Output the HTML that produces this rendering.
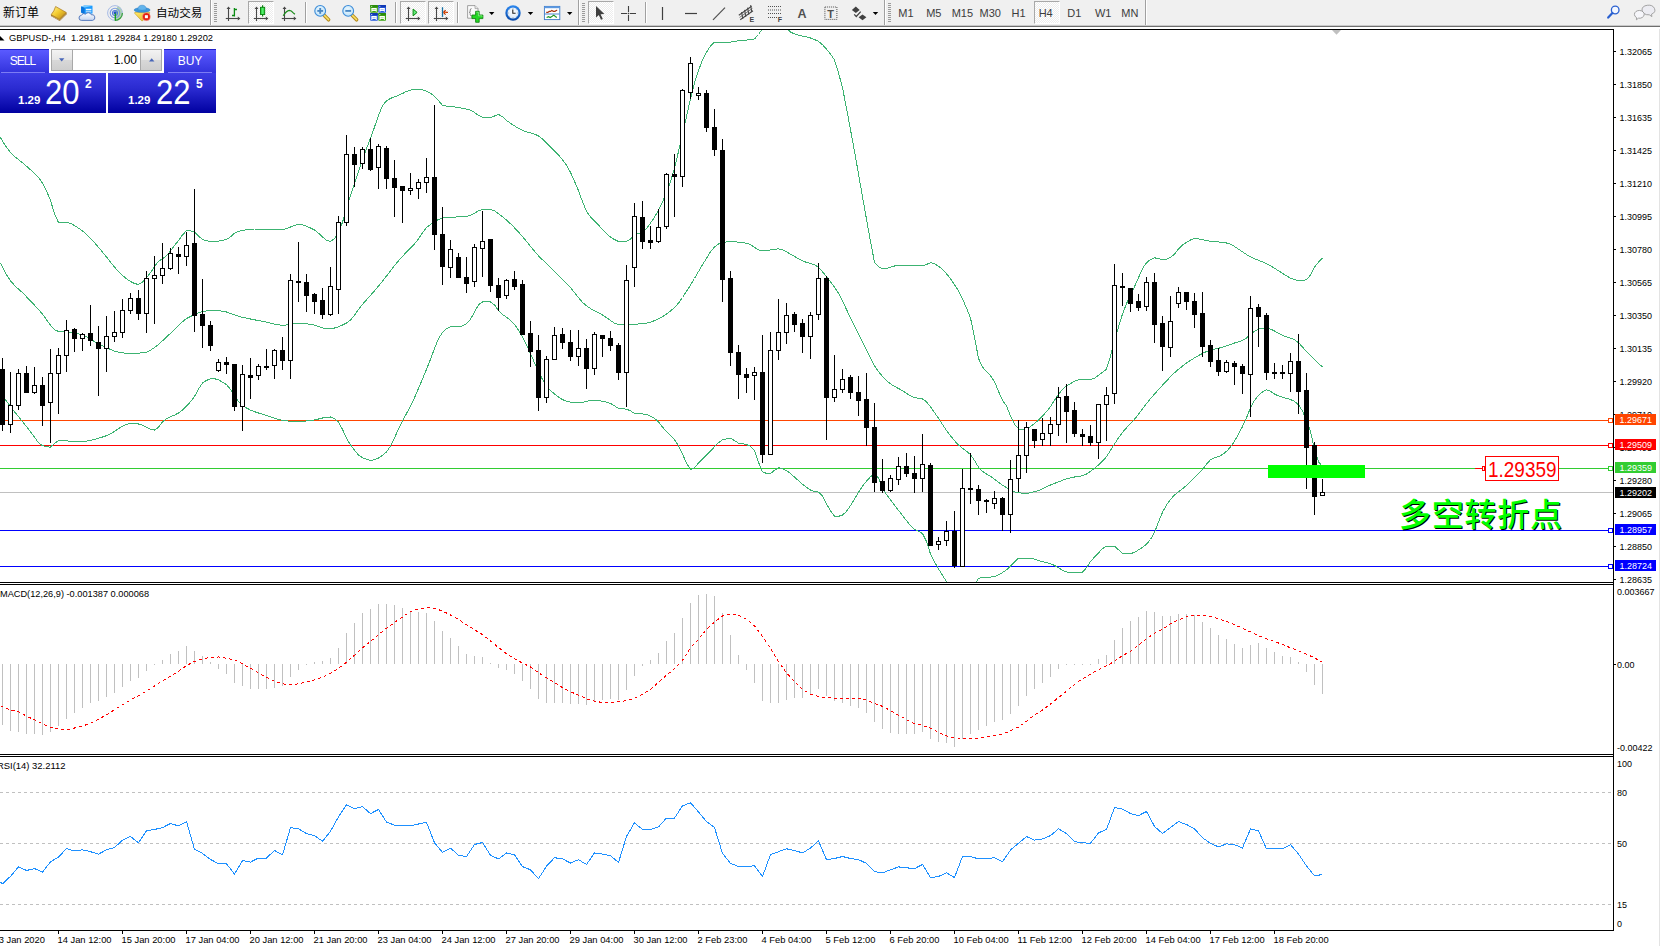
<!DOCTYPE html>
<html lang="zh"><head><meta charset="utf-8"><title>GBPUSD-,H4</title>
<style>
html,body{margin:0;padding:0;background:#fff;}
body{width:1660px;height:946px;overflow:hidden;position:relative;font-family:"Liberation Sans","Noto Sans CJK SC",sans-serif;}
#tb{position:absolute;left:0;top:0;width:1660px;height:29px;background:#f0f0f0;}
#tb .edge1{position:absolute;left:0;top:25px;width:1660px;height:1px;background:#c9c9c9;}
#tb .edge2{position:absolute;left:0;top:26px;width:1660px;height:1px;background:#6e6e6e;}
#tb .edge3{position:absolute;left:0;top:27px;width:1660px;height:2px;background:#fff;}
#tb .lbl{position:absolute;top:5px;font-size:12px;line-height:16px;color:#000;white-space:nowrap;}
#tb .tf{position:absolute;top:7px;font-size:11px;line-height:13px;color:#3c3c3c;white-space:nowrap;text-align:center;}
#tb .sep{position:absolute;top:2px;width:1px;height:21px;background:#a0a0a0;}
#tb .sepw{position:absolute;top:2px;width:1px;height:21px;background:#fff;}
#tb .grip{position:absolute;top:3px;width:3px;height:19px;background:repeating-linear-gradient(to bottom,#9a9a9a 0,#9a9a9a 1px,#f0f0f0 1px,#f0f0f0 2px);}
#tb .act{position:absolute;top:1px;height:23px;box-sizing:border-box;border:1px solid;border-color:#a8a8a8 #fff #fff #a8a8a8;background:#f8f8f8;background-image:repeating-conic-gradient(#fff 0 25%,#ededed 0 50%);background-size:2px 2px;}
#icons{position:absolute;left:0;top:0;}
#chart{position:absolute;left:0;top:0;}
#chart text{font-family:"Liberation Sans","Noto Sans CJK SC",sans-serif;}
#panel{position:absolute;left:0;top:49px;width:216px;height:64px;color:#fff;}
#panel .b{position:absolute;box-sizing:border-box;}
.sell,.buy{top:0;height:24px;background:linear-gradient(#5a5aff,#3232dc);font-size:12px;line-height:23px;text-align:center;border-top:1px solid #2020c8;}
.pr{top:24px;height:40px;background:linear-gradient(#3c3ce4 0,#2a2ad0 40%,#0000a0 100%);}
.pr span{position:absolute;white-space:nowrap;}
.sm{font-size:11.5px;font-weight:bold;line-height:11px;}
.big{font-size:34.5px;line-height:34px;transform-origin:0 0;transform:scaleX(.9);}
.vol{left:51px;top:0;width:111px;height:22px;border:1px solid #a8a8a8;background:#fff;}
.vbtn{position:absolute;top:0;width:21px;height:20px;background:linear-gradient(#f3f3f3 0,#e6e6e6 48%,#d8d8d8 52%,#cecece 100%);box-sizing:border-box;border:0 solid #a8a8a8;}

.vtxt{position:absolute;right:24px;top:3px;font-size:12px;line-height:14px;color:#000;}
</style></head><body>

<svg id="chart" width="1660" height="946" viewBox="0 0 1660 946">
<defs><clipPath id="cm"><rect x="0" y="30" width="1613" height="552"/></clipPath></defs>
<g shape-rendering="crispEdges">
<rect x="0" y="420" width="1613" height="1" fill="#ff4500"/>
<rect x="0" y="445" width="1613" height="1" fill="#ff0000"/>
<rect x="0" y="468" width="1613" height="1" fill="#32cd32"/>
<rect x="0" y="492" width="1613" height="1" fill="#c0c0c0"/>
<rect x="0" y="530" width="1613" height="1" fill="#0000ff"/>
<rect x="0" y="566" width="1613" height="1" fill="#0000ff"/>
<g clip-path="url(#cm)">
<polyline fill="none" stroke="#3cb371" stroke-width="1"  points="0.5,137.5 2.5,141.0 6.5,147.3 10.5,152.5 14.5,156.4 18.5,159.6 22.5,162.8 26.5,166.3 30.5,169.7 34.5,173.4 38.5,177.6 42.5,183.0 46.5,191.0 50.5,200.5 54.5,213.9 58.5,222.5 62.5,222.5 66.5,222.5 70.5,223.4 74.5,225.5 78.5,228.2 82.5,230.9 86.5,234.4 90.5,238.4 94.5,242.6 98.5,247.3 102.5,252.1 106.5,256.9 110.5,262.1 114.5,267.1 118.5,271.5 122.5,275.4 126.5,278.9 130.5,281.5 134.5,283.5 138.5,284.5 142.5,282.2 146.5,277.6 150.5,272.7 154.5,266.6 158.5,261.4 162.5,258.7 166.5,255.7 170.5,251.0 174.5,245.6 178.5,240.5 182.5,234.9 186.5,230.7 190.5,230.8 194.5,232.0 198.5,236.0 202.5,239.5 206.5,240.7 210.5,241.4 214.5,241.4 218.5,241.1 222.5,240.4 226.5,239.5 230.5,236.9 234.5,233.2 238.5,231.3 242.5,230.4 246.5,229.7 250.5,229.2 254.5,229.0 258.5,229.0 262.5,229.1 266.5,229.2 270.5,229.3 274.5,229.4 278.5,229.5 282.5,229.5 286.5,228.6 290.5,227.0 294.5,225.4 298.5,224.5 302.5,224.9 306.5,226.2 310.5,228.0 314.5,230.0 318.5,233.2 322.5,237.0 326.5,240.2 330.5,241.5 334.5,238.7 338.5,232.8 342.5,222.2 346.5,208.4 350.5,195.5 354.5,183.3 358.5,171.3 362.5,159.8 366.5,148.7 370.5,138.1 374.5,127.1 378.5,115.4 382.5,105.7 386.5,100.8 390.5,98.4 394.5,96.8 398.5,95.3 402.5,93.5 406.5,91.4 410.5,90.1 414.5,89.6 418.5,89.3 422.5,89.7 426.5,91.2 430.5,93.2 434.5,96.3 438.5,100.6 442.5,105.3 446.5,106.1 450.5,106.5 454.5,106.9 458.5,107.5 462.5,108.2 466.5,109.1 470.5,110.2 474.5,112.5 478.5,115.4 482.5,117.4 486.5,117.5 490.5,117.5 494.5,116.0 498.5,114.5 502.5,116.6 506.5,120.4 510.5,123.3 514.5,125.9 518.5,128.3 522.5,130.3 526.5,131.8 530.5,132.9 534.5,134.1 538.5,135.9 542.5,138.9 546.5,142.9 550.5,147.0 554.5,150.9 558.5,155.1 562.5,159.7 566.5,165.1 570.5,172.3 574.5,181.3 578.5,190.7 582.5,201.7 586.5,211.4 590.5,217.0 594.5,221.1 598.5,225.1 602.5,229.5 606.5,233.7 610.5,237.0 614.5,239.6 618.5,241.4 622.5,241.5 626.5,241.5 630.5,239.1 634.5,234.8 638.5,233.7 642.5,232.6 646.5,228.7 650.5,223.1 654.5,217.2 658.5,210.1 662.5,202.0 666.5,192.6 670.5,181.4 674.5,168.1 678.5,151.6 682.5,134.3 686.5,116.5 690.5,98.6 694.5,83.0 698.5,70.3 702.5,60.2 706.5,52.4 710.5,45.9 714.5,42.1 718.5,42.2 722.5,42.7 726.5,42.7 730.5,42.1 734.5,41.4 738.5,40.7 742.5,40.3 746.5,40.1 750.5,39.7 754.5,38.9 758.5,34.5 762.5,28.6 766.5,24.5 770.5,24.5 774.5,24.5 778.5,24.5 782.5,24.5 786.5,28.5 790.5,32.0 794.5,33.9 798.5,35.3 802.5,36.1 806.5,36.9 810.5,38.0 814.5,39.5 818.5,41.4 822.5,44.7 826.5,49.1 830.5,54.0 834.5,60.1 838.5,73.0 842.5,87.7 846.5,108.3 850.5,129.7 854.5,151.3 858.5,173.9 862.5,196.8 866.5,219.3 870.5,241.5 874.5,262.2 878.5,266.8 882.5,268.7 886.5,268.6 890.5,267.2 894.5,266.0 898.5,265.8 902.5,265.8 906.5,265.8 910.5,265.8 914.5,265.8 918.5,265.8 922.5,265.8 926.5,264.5 930.5,262.7 934.5,263.7 938.5,266.3 942.5,269.4 946.5,273.7 950.5,278.8 954.5,284.6 958.5,291.0 962.5,298.9 966.5,308.0 970.5,318.1 974.5,337.1 978.5,358.4 982.5,367.0 986.5,371.7 990.5,375.7 994.5,381.6 998.5,391.3 1002.5,400.3 1006.5,405.9 1010.5,416.0 1014.5,424.4 1018.5,428.8 1022.5,429.8 1026.5,429.9 1030.5,426.5 1034.5,423.4 1038.5,420.1 1042.5,416.0 1046.5,411.6 1050.5,406.7 1054.5,400.2 1058.5,394.1 1062.5,389.5 1066.5,385.9 1070.5,383.5 1074.5,381.3 1078.5,379.9 1082.5,379.5 1086.5,379.5 1090.5,379.5 1094.5,378.3 1098.5,375.2 1102.5,372.4 1106.5,369.1 1110.5,356.1 1114.5,341.2 1118.5,327.0 1122.5,314.0 1126.5,303.7 1130.5,295.1 1134.5,286.8 1138.5,277.6 1142.5,268.6 1146.5,262.7 1150.5,259.5 1154.5,257.8 1158.5,258.6 1162.5,259.7 1166.5,259.2 1170.5,257.3 1174.5,254.1 1178.5,248.9 1182.5,245.1 1186.5,242.3 1190.5,240.0 1194.5,238.6 1198.5,238.9 1202.5,239.7 1206.5,240.5 1210.5,241.2 1214.5,241.6 1218.5,242.0 1222.5,242.4 1226.5,243.0 1230.5,244.1 1234.5,246.5 1238.5,249.1 1242.5,251.8 1246.5,254.5 1250.5,256.8 1254.5,258.7 1258.5,260.3 1262.5,261.9 1266.5,263.7 1270.5,265.8 1274.5,268.3 1278.5,270.7 1282.5,273.3 1286.5,275.9 1290.5,278.1 1294.5,279.6 1298.5,280.6 1302.5,280.5 1306.5,279.6 1310.5,275.0 1314.5,267.3 1318.5,262.1 1322.5,257.8"/>
<polyline fill="none" stroke="#3cb371" stroke-width="1"  points="0.5,262.7 2.5,267.0 6.5,274.7 10.5,280.8 14.5,285.4 18.5,289.1 22.5,292.7 26.5,296.8 30.5,301.0 34.5,305.2 38.5,309.5 42.5,314.1 46.5,319.7 50.5,325.3 54.5,329.6 58.5,331.5 62.5,331.8 66.5,332.1 70.5,332.6 74.5,333.2 78.5,333.9 82.5,334.9 86.5,336.5 90.5,338.9 94.5,341.6 98.5,344.0 102.5,345.8 106.5,347.5 110.5,349.5 114.5,351.2 118.5,352.1 122.5,352.8 126.5,353.3 130.5,353.5 134.5,353.4 138.5,353.2 142.5,352.8 146.5,352.2 150.5,350.2 154.5,347.5 158.5,344.5 162.5,340.8 166.5,337.0 170.5,333.3 174.5,329.4 178.5,325.4 182.5,321.7 186.5,318.6 190.5,316.5 194.5,314.5 198.5,312.8 202.5,311.5 206.5,310.9 210.5,310.9 214.5,310.9 218.5,310.9 222.5,311.1 226.5,312.0 230.5,313.4 234.5,314.9 238.5,316.3 242.5,317.3 246.5,318.2 250.5,319.0 254.5,319.8 258.5,320.6 262.5,321.3 266.5,322.1 270.5,323.1 274.5,324.1 278.5,324.9 282.5,325.3 286.5,325.0 290.5,324.1 294.5,323.4 298.5,323.2 302.5,323.4 306.5,323.8 310.5,324.3 314.5,325.1 318.5,326.5 322.5,327.9 326.5,328.8 330.5,328.8 334.5,328.0 338.5,326.8 342.5,325.0 346.5,323.0 350.5,320.1 354.5,315.1 358.5,309.4 362.5,304.3 366.5,299.8 370.5,295.4 374.5,290.8 378.5,286.1 382.5,281.1 386.5,276.0 390.5,270.8 394.5,265.7 398.5,260.8 402.5,256.3 406.5,252.1 410.5,248.1 414.5,243.9 418.5,239.0 422.5,232.8 426.5,227.5 430.5,224.4 434.5,221.6 438.5,219.5 442.5,218.1 446.5,217.6 450.5,217.3 454.5,217.1 458.5,216.9 462.5,216.7 466.5,216.4 470.5,215.5 474.5,213.2 478.5,210.8 482.5,209.7 486.5,209.7 490.5,209.7 494.5,210.8 498.5,213.7 502.5,216.8 506.5,220.1 510.5,223.8 514.5,227.8 518.5,232.0 522.5,236.6 526.5,241.3 530.5,246.3 534.5,251.2 538.5,255.8 542.5,259.8 546.5,263.7 550.5,267.6 554.5,271.5 558.5,275.4 562.5,279.4 566.5,283.5 570.5,287.7 574.5,292.6 578.5,297.7 582.5,302.3 586.5,305.9 590.5,308.5 594.5,310.8 598.5,312.8 602.5,315.0 606.5,317.6 610.5,320.6 614.5,323.2 618.5,324.7 622.5,324.8 626.5,324.6 630.5,324.5 634.5,324.3 638.5,324.0 642.5,323.7 646.5,323.2 650.5,322.2 654.5,320.6 658.5,318.7 662.5,316.6 666.5,314.1 670.5,311.0 674.5,307.5 678.5,303.1 682.5,297.5 686.5,291.3 690.5,285.1 694.5,278.5 698.5,271.5 702.5,264.8 706.5,258.2 710.5,251.7 714.5,247.1 718.5,244.0 722.5,242.6 726.5,241.9 730.5,241.7 734.5,241.8 738.5,242.1 742.5,242.6 746.5,243.2 750.5,244.6 754.5,247.3 758.5,249.9 762.5,250.9 766.5,250.5 770.5,249.9 774.5,249.2 778.5,248.9 782.5,249.7 786.5,251.8 790.5,254.3 794.5,256.4 798.5,258.7 802.5,260.8 806.5,262.4 810.5,263.5 814.5,264.8 818.5,267.2 822.5,271.7 826.5,276.8 830.5,281.8 834.5,287.2 838.5,293.4 842.5,301.1 846.5,309.5 850.5,317.8 854.5,325.9 858.5,334.0 862.5,341.9 866.5,350.0 870.5,358.2 874.5,365.7 878.5,371.6 882.5,376.5 886.5,380.7 890.5,383.9 894.5,386.4 898.5,388.5 902.5,390.8 906.5,393.3 910.5,395.8 914.5,397.5 918.5,398.3 922.5,399.0 926.5,401.8 930.5,406.9 934.5,412.5 938.5,418.3 942.5,424.6 946.5,430.5 950.5,435.8 954.5,440.7 958.5,445.0 962.5,448.3 966.5,451.2 970.5,454.6 974.5,460.4 978.5,467.2 982.5,471.4 986.5,474.0 990.5,476.4 994.5,479.2 998.5,482.3 1002.5,485.2 1006.5,487.7 1010.5,490.1 1014.5,492.0 1018.5,492.7 1022.5,493.2 1026.5,493.3 1030.5,492.8 1034.5,491.7 1038.5,490.5 1042.5,488.8 1046.5,486.9 1050.5,485.0 1054.5,483.4 1058.5,481.9 1062.5,480.3 1066.5,478.9 1070.5,477.8 1074.5,477.0 1078.5,476.5 1082.5,475.8 1086.5,474.1 1090.5,471.2 1094.5,468.2 1098.5,465.0 1102.5,461.2 1106.5,456.7 1110.5,450.3 1114.5,444.0 1118.5,437.9 1122.5,432.4 1126.5,427.8 1130.5,423.7 1134.5,419.3 1138.5,414.2 1142.5,408.8 1146.5,403.6 1150.5,398.7 1154.5,394.1 1158.5,389.5 1162.5,385.2 1166.5,380.9 1170.5,376.7 1174.5,372.8 1178.5,369.3 1182.5,366.1 1186.5,363.1 1190.5,360.4 1194.5,357.9 1198.5,355.6 1202.5,353.4 1206.5,351.6 1210.5,350.2 1214.5,349.2 1218.5,348.3 1222.5,347.1 1226.5,345.7 1230.5,344.4 1234.5,343.0 1238.5,341.9 1242.5,340.5 1246.5,338.0 1250.5,334.1 1254.5,331.3 1258.5,329.1 1262.5,328.2 1266.5,328.5 1270.5,329.1 1274.5,331.0 1278.5,333.4 1282.5,335.4 1286.5,336.8 1290.5,338.1 1294.5,339.8 1298.5,342.6 1302.5,347.1 1306.5,351.5 1310.5,355.6 1314.5,359.6 1318.5,363.4 1322.5,367.0"/>
<polyline fill="none" stroke="#3cb371" stroke-width="1"  points="0.5,394.5 2.5,396.4 6.5,401.0 10.5,406.5 14.5,411.7 18.5,416.7 22.5,421.6 26.5,426.6 30.5,431.7 34.5,437.1 38.5,442.8 42.5,445.7 46.5,446.8 50.5,447.1 54.5,443.4 58.5,440.5 62.5,440.6 66.5,440.9 70.5,441.2 74.5,441.5 78.5,441.7 82.5,441.6 86.5,441.2 90.5,440.4 94.5,439.4 98.5,438.2 102.5,437.0 106.5,435.7 110.5,433.9 114.5,431.4 118.5,428.7 122.5,426.1 126.5,424.2 130.5,423.5 134.5,423.7 138.5,424.0 142.5,425.1 146.5,427.1 150.5,429.1 154.5,430.1 158.5,427.3 162.5,421.9 166.5,418.7 170.5,416.8 174.5,415.1 178.5,413.0 182.5,410.0 186.5,406.2 190.5,401.7 194.5,396.6 198.5,389.0 202.5,383.0 206.5,380.4 210.5,378.7 214.5,378.7 218.5,379.9 222.5,382.1 226.5,384.7 230.5,389.3 234.5,396.1 238.5,401.4 242.5,405.0 246.5,408.0 250.5,410.1 254.5,411.7 258.5,413.0 262.5,414.2 266.5,415.5 270.5,416.9 274.5,418.3 278.5,419.5 282.5,420.2 286.5,420.8 290.5,421.3 294.5,421.6 298.5,421.7 302.5,421.4 306.5,421.0 310.5,420.5 314.5,419.9 318.5,419.0 322.5,418.0 326.5,417.1 330.5,417.0 334.5,418.7 338.5,422.1 342.5,429.4 346.5,438.1 350.5,444.9 354.5,450.3 358.5,454.9 362.5,457.7 366.5,459.3 370.5,460.3 374.5,459.8 378.5,458.1 382.5,455.3 386.5,452.0 390.5,446.2 394.5,437.8 398.5,428.9 402.5,421.0 406.5,413.6 410.5,406.0 414.5,397.6 418.5,388.4 422.5,378.9 426.5,369.4 430.5,359.3 434.5,348.4 438.5,338.7 442.5,332.3 446.5,328.8 450.5,326.8 454.5,326.8 458.5,326.8 462.5,325.8 466.5,323.8 470.5,319.3 474.5,311.9 478.5,304.9 482.5,301.9 486.5,301.9 490.5,301.9 494.5,304.9 498.5,310.7 502.5,314.4 506.5,317.3 510.5,320.4 514.5,324.4 518.5,330.3 522.5,337.2 526.5,345.1 530.5,353.6 534.5,362.8 538.5,371.8 542.5,379.3 546.5,385.8 550.5,390.5 554.5,394.0 558.5,397.1 562.5,399.6 566.5,401.3 570.5,402.1 574.5,402.5 578.5,402.7 582.5,402.3 586.5,401.4 590.5,400.5 594.5,400.3 598.5,400.7 602.5,401.3 606.5,402.2 610.5,403.3 614.5,405.8 618.5,408.4 622.5,408.9 626.5,409.1 630.5,410.9 634.5,413.3 638.5,413.7 642.5,413.9 646.5,414.5 650.5,416.1 654.5,418.4 658.5,421.7 662.5,427.0 666.5,431.8 670.5,435.5 674.5,439.6 678.5,446.0 682.5,454.1 686.5,462.9 690.5,469.6 694.5,467.6 698.5,463.0 702.5,459.0 706.5,454.9 710.5,450.9 714.5,446.8 718.5,442.7 722.5,439.8 726.5,438.8 730.5,438.3 734.5,440.6 738.5,443.1 742.5,443.8 746.5,444.5 750.5,446.3 754.5,450.2 758.5,462.3 762.5,471.8 766.5,473.4 770.5,473.5 774.5,470.3 778.5,467.7 782.5,468.6 786.5,470.7 790.5,473.5 794.5,477.1 798.5,480.6 802.5,484.3 806.5,487.4 810.5,490.0 814.5,491.4 818.5,492.1 822.5,495.8 826.5,503.8 830.5,511.0 834.5,516.3 838.5,516.3 842.5,515.1 846.5,511.4 850.5,505.5 854.5,499.2 858.5,492.3 862.5,486.3 866.5,481.1 870.5,476.7 874.5,473.4 878.5,477.9 882.5,488.2 886.5,494.5 890.5,499.9 894.5,505.2 898.5,510.4 902.5,515.5 906.5,520.7 910.5,525.6 914.5,529.2 918.5,531.2 922.5,533.6 926.5,541.5 930.5,554.0 934.5,562.0 938.5,568.9 942.5,575.4 946.5,581.4 950.5,588.1 954.5,592.5 958.5,592.5 962.5,592.5 966.5,592.5 970.5,591.6 974.5,586.2 978.5,578.3 982.5,577.6 986.5,577.4 990.5,577.1 994.5,576.5 998.5,574.8 1002.5,572.6 1006.5,569.8 1010.5,566.0 1014.5,561.8 1018.5,558.2 1022.5,558.1 1026.5,558.1 1030.5,558.2 1034.5,559.2 1038.5,560.6 1042.5,561.6 1046.5,562.5 1050.5,563.6 1054.5,565.5 1058.5,567.7 1062.5,570.3 1066.5,572.0 1070.5,572.1 1074.5,572.1 1078.5,572.1 1082.5,572.1 1086.5,567.7 1090.5,561.6 1094.5,557.0 1098.5,552.9 1102.5,548.7 1106.5,546.0 1110.5,546.0 1114.5,546.0 1118.5,549.8 1122.5,553.5 1126.5,553.5 1130.5,553.5 1134.5,552.5 1138.5,549.8 1142.5,547.3 1146.5,544.2 1150.5,539.5 1154.5,532.5 1158.5,521.9 1162.5,512.3 1166.5,505.0 1170.5,499.4 1174.5,495.0 1178.5,491.7 1182.5,488.8 1186.5,485.4 1190.5,481.7 1194.5,477.7 1198.5,473.6 1202.5,469.4 1206.5,464.2 1210.5,459.7 1214.5,457.8 1218.5,456.7 1222.5,454.5 1226.5,451.3 1230.5,447.1 1234.5,441.2 1238.5,434.3 1242.5,426.5 1246.5,417.7 1250.5,407.7 1254.5,400.4 1258.5,395.2 1262.5,391.9 1266.5,389.9 1270.5,391.2 1274.5,394.0 1278.5,395.9 1282.5,397.2 1286.5,398.4 1290.5,399.5 1294.5,401.3 1298.5,404.8 1302.5,411.1 1306.5,420.2 1310.5,431.3 1314.5,449.2 1318.5,461.8 1322.5,466.5"/>
</g>
<rect x="2" y="358" width="1" height="73" fill="#000"/>
<rect x="0" y="369" width="5" height="56" fill="#000"/>
<rect x="10" y="372" width="1" height="61" fill="#000"/>
<rect x="8" y="405" width="5" height="20" fill="#000"/>
<rect x="9" y="406" width="3" height="18" fill="#fff"/>
<rect x="18" y="369" width="1" height="41" fill="#000"/>
<rect x="16" y="373" width="5" height="33" fill="#000"/>
<rect x="17" y="374" width="3" height="31" fill="#fff"/>
<rect x="26" y="366" width="1" height="27" fill="#000"/>
<rect x="24" y="373" width="5" height="20" fill="#000"/>
<rect x="34" y="367" width="1" height="27" fill="#000"/>
<rect x="32" y="385" width="5" height="8" fill="#000"/>
<rect x="33" y="386" width="3" height="6" fill="#fff"/>
<rect x="42" y="377" width="1" height="49" fill="#000"/>
<rect x="40" y="385" width="5" height="21" fill="#000"/>
<rect x="50" y="349" width="1" height="94" fill="#000"/>
<rect x="48" y="373" width="5" height="30" fill="#000"/>
<rect x="49" y="374" width="3" height="28" fill="#fff"/>
<rect x="58" y="348" width="1" height="66" fill="#000"/>
<rect x="56" y="355" width="5" height="19" fill="#000"/>
<rect x="57" y="356" width="3" height="17" fill="#fff"/>
<rect x="66" y="320" width="1" height="52" fill="#000"/>
<rect x="64" y="330" width="5" height="26" fill="#000"/>
<rect x="65" y="331" width="3" height="24" fill="#fff"/>
<rect x="74" y="328" width="1" height="24" fill="#000"/>
<rect x="72" y="329" width="5" height="10" fill="#000"/>
<rect x="82" y="333" width="1" height="18" fill="#000"/>
<rect x="80" y="334" width="5" height="5" fill="#000"/>
<rect x="81" y="335" width="3" height="3" fill="#fff"/>
<rect x="90" y="305" width="1" height="41" fill="#000"/>
<rect x="88" y="333" width="5" height="8" fill="#000"/>
<rect x="98" y="326" width="1" height="70" fill="#000"/>
<rect x="96" y="342" width="5" height="7" fill="#000"/>
<rect x="106" y="316" width="1" height="56" fill="#000"/>
<rect x="104" y="336" width="5" height="13" fill="#000"/>
<rect x="105" y="337" width="3" height="11" fill="#fff"/>
<rect x="114" y="311" width="1" height="31" fill="#000"/>
<rect x="112" y="332" width="5" height="5" fill="#000"/>
<rect x="113" y="333" width="3" height="3" fill="#fff"/>
<rect x="122" y="299" width="1" height="39" fill="#000"/>
<rect x="120" y="310" width="5" height="23" fill="#000"/>
<rect x="121" y="311" width="3" height="21" fill="#fff"/>
<rect x="130" y="293" width="1" height="21" fill="#000"/>
<rect x="128" y="298" width="5" height="13" fill="#000"/>
<rect x="129" y="299" width="3" height="11" fill="#fff"/>
<rect x="138" y="290" width="1" height="30" fill="#000"/>
<rect x="136" y="298" width="5" height="16" fill="#000"/>
<rect x="146" y="271" width="1" height="62" fill="#000"/>
<rect x="144" y="278" width="5" height="36" fill="#000"/>
<rect x="145" y="279" width="3" height="34" fill="#fff"/>
<rect x="154" y="256" width="1" height="68" fill="#000"/>
<rect x="152" y="275" width="5" height="4" fill="#000"/>
<rect x="153" y="276" width="3" height="2" fill="#fff"/>
<rect x="162" y="243" width="1" height="41" fill="#000"/>
<rect x="160" y="268" width="5" height="8" fill="#000"/>
<rect x="161" y="269" width="3" height="6" fill="#fff"/>
<rect x="170" y="248" width="1" height="22" fill="#000"/>
<rect x="168" y="253" width="5" height="16" fill="#000"/>
<rect x="169" y="254" width="3" height="14" fill="#fff"/>
<rect x="178" y="247" width="1" height="27" fill="#000"/>
<rect x="176" y="254" width="5" height="3" fill="#000"/>
<rect x="186" y="232" width="1" height="34" fill="#000"/>
<rect x="184" y="245" width="5" height="12" fill="#000"/>
<rect x="185" y="246" width="3" height="10" fill="#fff"/>
<rect x="194" y="189" width="1" height="143" fill="#000"/>
<rect x="192" y="243" width="5" height="73" fill="#000"/>
<rect x="202" y="279" width="1" height="69" fill="#000"/>
<rect x="200" y="314" width="5" height="12" fill="#000"/>
<rect x="210" y="321" width="1" height="30" fill="#000"/>
<rect x="208" y="325" width="5" height="21" fill="#000"/>
<rect x="218" y="359" width="1" height="13" fill="#000"/>
<rect x="216" y="362" width="5" height="9" fill="#000"/>
<rect x="217" y="363" width="3" height="7" fill="#fff"/>
<rect x="226" y="357" width="1" height="17" fill="#000"/>
<rect x="224" y="362" width="5" height="3" fill="#000"/>
<rect x="234" y="364" width="1" height="47" fill="#000"/>
<rect x="232" y="364" width="5" height="43" fill="#000"/>
<rect x="242" y="365" width="1" height="66" fill="#000"/>
<rect x="240" y="374" width="5" height="33" fill="#000"/>
<rect x="241" y="375" width="3" height="31" fill="#fff"/>
<rect x="250" y="358" width="1" height="41" fill="#000"/>
<rect x="248" y="375" width="5" height="3" fill="#000"/>
<rect x="258" y="364" width="1" height="16" fill="#000"/>
<rect x="256" y="366" width="5" height="10" fill="#000"/>
<rect x="257" y="367" width="3" height="8" fill="#fff"/>
<rect x="266" y="349" width="1" height="21" fill="#000"/>
<rect x="264" y="366" width="5" height="2" fill="#000"/>
<rect x="274" y="349" width="1" height="30" fill="#000"/>
<rect x="272" y="350" width="5" height="16" fill="#000"/>
<rect x="273" y="351" width="3" height="14" fill="#fff"/>
<rect x="282" y="337" width="1" height="33" fill="#000"/>
<rect x="280" y="350" width="5" height="11" fill="#000"/>
<rect x="290" y="274" width="1" height="105" fill="#000"/>
<rect x="288" y="280" width="5" height="81" fill="#000"/>
<rect x="289" y="281" width="3" height="79" fill="#fff"/>
<rect x="298" y="242" width="1" height="60" fill="#000"/>
<rect x="296" y="281" width="5" height="2" fill="#000"/>
<rect x="306" y="274" width="1" height="38" fill="#000"/>
<rect x="304" y="282" width="5" height="14" fill="#000"/>
<rect x="314" y="293" width="1" height="21" fill="#000"/>
<rect x="312" y="294" width="5" height="8" fill="#000"/>
<rect x="322" y="288" width="1" height="31" fill="#000"/>
<rect x="320" y="300" width="5" height="15" fill="#000"/>
<rect x="330" y="267" width="1" height="49" fill="#000"/>
<rect x="328" y="286" width="5" height="29" fill="#000"/>
<rect x="329" y="287" width="3" height="27" fill="#fff"/>
<rect x="338" y="216" width="1" height="98" fill="#000"/>
<rect x="336" y="222" width="5" height="68" fill="#000"/>
<rect x="337" y="223" width="3" height="66" fill="#fff"/>
<rect x="346" y="135" width="1" height="91" fill="#000"/>
<rect x="344" y="154" width="5" height="69" fill="#000"/>
<rect x="345" y="155" width="3" height="67" fill="#fff"/>
<rect x="354" y="147" width="1" height="40" fill="#000"/>
<rect x="352" y="154" width="5" height="11" fill="#000"/>
<rect x="362" y="147" width="1" height="22" fill="#000"/>
<rect x="360" y="149" width="5" height="15" fill="#000"/>
<rect x="361" y="150" width="3" height="13" fill="#fff"/>
<rect x="370" y="138" width="1" height="33" fill="#000"/>
<rect x="368" y="149" width="5" height="21" fill="#000"/>
<rect x="378" y="144" width="1" height="45" fill="#000"/>
<rect x="376" y="146" width="5" height="22" fill="#000"/>
<rect x="377" y="147" width="3" height="20" fill="#fff"/>
<rect x="386" y="146" width="1" height="43" fill="#000"/>
<rect x="384" y="148" width="5" height="31" fill="#000"/>
<rect x="394" y="160" width="1" height="57" fill="#000"/>
<rect x="392" y="178" width="5" height="10" fill="#000"/>
<rect x="402" y="186" width="1" height="37" fill="#000"/>
<rect x="400" y="186" width="5" height="5" fill="#000"/>
<rect x="410" y="173" width="1" height="22" fill="#000"/>
<rect x="408" y="188" width="5" height="3" fill="#000"/>
<rect x="409" y="189" width="3" height="1" fill="#fff"/>
<rect x="418" y="179" width="1" height="20" fill="#000"/>
<rect x="416" y="182" width="5" height="7" fill="#000"/>
<rect x="417" y="183" width="3" height="5" fill="#fff"/>
<rect x="426" y="158" width="1" height="35" fill="#000"/>
<rect x="424" y="177" width="5" height="6" fill="#000"/>
<rect x="425" y="178" width="3" height="4" fill="#fff"/>
<rect x="434" y="105" width="1" height="145" fill="#000"/>
<rect x="432" y="177" width="5" height="58" fill="#000"/>
<rect x="442" y="207" width="1" height="78" fill="#000"/>
<rect x="440" y="234" width="5" height="33" fill="#000"/>
<rect x="450" y="240" width="1" height="38" fill="#000"/>
<rect x="448" y="249" width="5" height="19" fill="#000"/>
<rect x="449" y="250" width="3" height="17" fill="#fff"/>
<rect x="458" y="253" width="1" height="25" fill="#000"/>
<rect x="456" y="257" width="5" height="21" fill="#000"/>
<rect x="466" y="257" width="1" height="36" fill="#000"/>
<rect x="464" y="277" width="5" height="7" fill="#000"/>
<rect x="474" y="244" width="1" height="43" fill="#000"/>
<rect x="472" y="247" width="5" height="35" fill="#000"/>
<rect x="473" y="248" width="3" height="33" fill="#fff"/>
<rect x="482" y="211" width="1" height="66" fill="#000"/>
<rect x="480" y="241" width="5" height="8" fill="#000"/>
<rect x="481" y="242" width="3" height="6" fill="#fff"/>
<rect x="490" y="239" width="1" height="53" fill="#000"/>
<rect x="488" y="239" width="5" height="47" fill="#000"/>
<rect x="498" y="278" width="1" height="33" fill="#000"/>
<rect x="496" y="285" width="5" height="13" fill="#000"/>
<rect x="506" y="279" width="1" height="20" fill="#000"/>
<rect x="504" y="280" width="5" height="16" fill="#000"/>
<rect x="505" y="281" width="3" height="14" fill="#fff"/>
<rect x="514" y="271" width="1" height="19" fill="#000"/>
<rect x="512" y="279" width="5" height="8" fill="#000"/>
<rect x="522" y="280" width="1" height="55" fill="#000"/>
<rect x="520" y="284" width="5" height="51" fill="#000"/>
<rect x="530" y="321" width="1" height="46" fill="#000"/>
<rect x="528" y="333" width="5" height="19" fill="#000"/>
<rect x="538" y="335" width="1" height="76" fill="#000"/>
<rect x="536" y="350" width="5" height="48" fill="#000"/>
<rect x="546" y="356" width="1" height="47" fill="#000"/>
<rect x="544" y="359" width="5" height="39" fill="#000"/>
<rect x="545" y="360" width="3" height="37" fill="#fff"/>
<rect x="554" y="327" width="1" height="33" fill="#000"/>
<rect x="552" y="335" width="5" height="25" fill="#000"/>
<rect x="553" y="336" width="3" height="23" fill="#fff"/>
<rect x="562" y="328" width="1" height="21" fill="#000"/>
<rect x="560" y="334" width="5" height="9" fill="#000"/>
<rect x="570" y="330" width="1" height="31" fill="#000"/>
<rect x="568" y="342" width="5" height="15" fill="#000"/>
<rect x="578" y="330" width="1" height="36" fill="#000"/>
<rect x="576" y="348" width="5" height="9" fill="#000"/>
<rect x="577" y="349" width="3" height="7" fill="#fff"/>
<rect x="586" y="339" width="1" height="50" fill="#000"/>
<rect x="584" y="348" width="5" height="21" fill="#000"/>
<rect x="594" y="332" width="1" height="43" fill="#000"/>
<rect x="592" y="334" width="5" height="35" fill="#000"/>
<rect x="593" y="335" width="3" height="33" fill="#fff"/>
<rect x="602" y="335" width="1" height="22" fill="#000"/>
<rect x="600" y="335" width="5" height="4" fill="#000"/>
<rect x="610" y="331" width="1" height="20" fill="#000"/>
<rect x="608" y="338" width="5" height="8" fill="#000"/>
<rect x="618" y="343" width="1" height="37" fill="#000"/>
<rect x="616" y="345" width="5" height="28" fill="#000"/>
<rect x="626" y="265" width="1" height="142" fill="#000"/>
<rect x="624" y="280" width="5" height="93" fill="#000"/>
<rect x="625" y="281" width="3" height="91" fill="#fff"/>
<rect x="634" y="203" width="1" height="84" fill="#000"/>
<rect x="632" y="216" width="5" height="52" fill="#000"/>
<rect x="633" y="217" width="3" height="50" fill="#fff"/>
<rect x="642" y="201" width="1" height="48" fill="#000"/>
<rect x="640" y="217" width="5" height="25" fill="#000"/>
<rect x="650" y="226" width="1" height="23" fill="#000"/>
<rect x="648" y="240" width="5" height="3" fill="#000"/>
<rect x="658" y="209" width="1" height="34" fill="#000"/>
<rect x="656" y="227" width="5" height="15" fill="#000"/>
<rect x="657" y="228" width="3" height="13" fill="#fff"/>
<rect x="666" y="173" width="1" height="56" fill="#000"/>
<rect x="664" y="174" width="5" height="53" fill="#000"/>
<rect x="665" y="175" width="3" height="51" fill="#fff"/>
<rect x="674" y="154" width="1" height="63" fill="#000"/>
<rect x="672" y="174" width="5" height="3" fill="#000"/>
<rect x="682" y="89" width="1" height="98" fill="#000"/>
<rect x="680" y="90" width="5" height="87" fill="#000"/>
<rect x="681" y="91" width="3" height="85" fill="#fff"/>
<rect x="690" y="57" width="1" height="42" fill="#000"/>
<rect x="688" y="63" width="5" height="30" fill="#000"/>
<rect x="689" y="64" width="3" height="28" fill="#fff"/>
<rect x="698" y="87" width="1" height="13" fill="#000"/>
<rect x="696" y="93" width="5" height="3" fill="#000"/>
<rect x="697" y="94" width="3" height="1" fill="#fff"/>
<rect x="706" y="90" width="1" height="42" fill="#000"/>
<rect x="704" y="93" width="5" height="35" fill="#000"/>
<rect x="714" y="109" width="1" height="47" fill="#000"/>
<rect x="712" y="127" width="5" height="23" fill="#000"/>
<rect x="722" y="139" width="1" height="163" fill="#000"/>
<rect x="720" y="150" width="5" height="130" fill="#000"/>
<rect x="730" y="271" width="1" height="95" fill="#000"/>
<rect x="728" y="278" width="5" height="75" fill="#000"/>
<rect x="738" y="345" width="1" height="54" fill="#000"/>
<rect x="736" y="352" width="5" height="23" fill="#000"/>
<rect x="746" y="368" width="1" height="25" fill="#000"/>
<rect x="744" y="374" width="5" height="4" fill="#000"/>
<rect x="754" y="367" width="1" height="33" fill="#000"/>
<rect x="752" y="372" width="5" height="4" fill="#000"/>
<rect x="753" y="373" width="3" height="2" fill="#fff"/>
<rect x="762" y="335" width="1" height="128" fill="#000"/>
<rect x="760" y="372" width="5" height="83" fill="#000"/>
<rect x="770" y="332" width="1" height="123" fill="#000"/>
<rect x="768" y="350" width="5" height="105" fill="#000"/>
<rect x="769" y="351" width="3" height="103" fill="#fff"/>
<rect x="778" y="299" width="1" height="61" fill="#000"/>
<rect x="776" y="332" width="5" height="19" fill="#000"/>
<rect x="777" y="333" width="3" height="17" fill="#fff"/>
<rect x="786" y="303" width="1" height="41" fill="#000"/>
<rect x="784" y="315" width="5" height="18" fill="#000"/>
<rect x="785" y="316" width="3" height="16" fill="#fff"/>
<rect x="794" y="312" width="1" height="20" fill="#000"/>
<rect x="792" y="314" width="5" height="11" fill="#000"/>
<rect x="802" y="319" width="1" height="34" fill="#000"/>
<rect x="800" y="323" width="5" height="14" fill="#000"/>
<rect x="810" y="312" width="1" height="47" fill="#000"/>
<rect x="808" y="315" width="5" height="22" fill="#000"/>
<rect x="809" y="316" width="3" height="20" fill="#fff"/>
<rect x="818" y="263" width="1" height="57" fill="#000"/>
<rect x="816" y="278" width="5" height="37" fill="#000"/>
<rect x="817" y="279" width="3" height="35" fill="#fff"/>
<rect x="826" y="276" width="1" height="164" fill="#000"/>
<rect x="824" y="278" width="5" height="120" fill="#000"/>
<rect x="834" y="355" width="1" height="47" fill="#000"/>
<rect x="832" y="389" width="5" height="9" fill="#000"/>
<rect x="833" y="390" width="3" height="7" fill="#fff"/>
<rect x="842" y="369" width="1" height="24" fill="#000"/>
<rect x="840" y="379" width="5" height="11" fill="#000"/>
<rect x="841" y="380" width="3" height="9" fill="#fff"/>
<rect x="850" y="375" width="1" height="24" fill="#000"/>
<rect x="848" y="377" width="5" height="16" fill="#000"/>
<rect x="858" y="376" width="1" height="40" fill="#000"/>
<rect x="856" y="392" width="5" height="9" fill="#000"/>
<rect x="866" y="373" width="1" height="73" fill="#000"/>
<rect x="864" y="399" width="5" height="29" fill="#000"/>
<rect x="874" y="403" width="1" height="89" fill="#000"/>
<rect x="872" y="427" width="5" height="56" fill="#000"/>
<rect x="882" y="459" width="1" height="34" fill="#000"/>
<rect x="880" y="481" width="5" height="10" fill="#000"/>
<rect x="890" y="475" width="1" height="17" fill="#000"/>
<rect x="888" y="478" width="5" height="13" fill="#000"/>
<rect x="889" y="479" width="3" height="11" fill="#fff"/>
<rect x="898" y="457" width="1" height="28" fill="#000"/>
<rect x="896" y="466" width="5" height="14" fill="#000"/>
<rect x="897" y="467" width="3" height="12" fill="#fff"/>
<rect x="906" y="453" width="1" height="24" fill="#000"/>
<rect x="904" y="466" width="5" height="8" fill="#000"/>
<rect x="914" y="456" width="1" height="37" fill="#000"/>
<rect x="912" y="473" width="5" height="6" fill="#000"/>
<rect x="922" y="434" width="1" height="58" fill="#000"/>
<rect x="920" y="464" width="5" height="15" fill="#000"/>
<rect x="921" y="465" width="3" height="13" fill="#fff"/>
<rect x="930" y="463" width="1" height="83" fill="#000"/>
<rect x="928" y="465" width="5" height="81" fill="#000"/>
<rect x="938" y="537" width="1" height="13" fill="#000"/>
<rect x="936" y="541" width="5" height="4" fill="#000"/>
<rect x="937" y="542" width="3" height="2" fill="#fff"/>
<rect x="946" y="521" width="1" height="25" fill="#000"/>
<rect x="944" y="531" width="5" height="10" fill="#000"/>
<rect x="945" y="532" width="3" height="8" fill="#fff"/>
<rect x="954" y="511" width="1" height="57" fill="#000"/>
<rect x="952" y="531" width="5" height="35" fill="#000"/>
<rect x="962" y="469" width="1" height="98" fill="#000"/>
<rect x="960" y="488" width="5" height="79" fill="#000"/>
<rect x="961" y="489" width="3" height="77" fill="#fff"/>
<rect x="970" y="453" width="1" height="51" fill="#000"/>
<rect x="968" y="488" width="5" height="2" fill="#000"/>
<rect x="978" y="485" width="1" height="30" fill="#000"/>
<rect x="976" y="489" width="5" height="12" fill="#000"/>
<rect x="986" y="499" width="1" height="14" fill="#000"/>
<rect x="984" y="500" width="5" height="2" fill="#000"/>
<rect x="994" y="491" width="1" height="18" fill="#000"/>
<rect x="992" y="498" width="5" height="6" fill="#000"/>
<rect x="993" y="499" width="3" height="4" fill="#fff"/>
<rect x="1002" y="497" width="1" height="34" fill="#000"/>
<rect x="1000" y="498" width="5" height="17" fill="#000"/>
<rect x="1010" y="460" width="1" height="73" fill="#000"/>
<rect x="1008" y="479" width="5" height="36" fill="#000"/>
<rect x="1009" y="480" width="3" height="34" fill="#fff"/>
<rect x="1018" y="420" width="1" height="72" fill="#000"/>
<rect x="1016" y="455" width="5" height="24" fill="#000"/>
<rect x="1017" y="456" width="3" height="22" fill="#fff"/>
<rect x="1026" y="422" width="1" height="51" fill="#000"/>
<rect x="1024" y="427" width="5" height="29" fill="#000"/>
<rect x="1025" y="428" width="3" height="27" fill="#fff"/>
<rect x="1034" y="429" width="1" height="19" fill="#000"/>
<rect x="1032" y="429" width="5" height="12" fill="#000"/>
<rect x="1042" y="418" width="1" height="28" fill="#000"/>
<rect x="1040" y="433" width="5" height="7" fill="#000"/>
<rect x="1041" y="434" width="3" height="5" fill="#fff"/>
<rect x="1050" y="417" width="1" height="29" fill="#000"/>
<rect x="1048" y="424" width="5" height="10" fill="#000"/>
<rect x="1049" y="425" width="3" height="8" fill="#fff"/>
<rect x="1058" y="387" width="1" height="49" fill="#000"/>
<rect x="1056" y="397" width="5" height="28" fill="#000"/>
<rect x="1057" y="398" width="3" height="26" fill="#fff"/>
<rect x="1066" y="384" width="1" height="59" fill="#000"/>
<rect x="1064" y="396" width="5" height="16" fill="#000"/>
<rect x="1074" y="402" width="1" height="35" fill="#000"/>
<rect x="1072" y="410" width="5" height="24" fill="#000"/>
<rect x="1082" y="429" width="1" height="17" fill="#000"/>
<rect x="1080" y="434" width="5" height="3" fill="#000"/>
<rect x="1090" y="425" width="1" height="21" fill="#000"/>
<rect x="1088" y="436" width="5" height="7" fill="#000"/>
<rect x="1098" y="404" width="1" height="55" fill="#000"/>
<rect x="1096" y="404" width="5" height="39" fill="#000"/>
<rect x="1097" y="405" width="3" height="37" fill="#fff"/>
<rect x="1106" y="387" width="1" height="54" fill="#000"/>
<rect x="1104" y="395" width="5" height="10" fill="#000"/>
<rect x="1105" y="396" width="3" height="8" fill="#fff"/>
<rect x="1114" y="264" width="1" height="140" fill="#000"/>
<rect x="1112" y="285" width="5" height="109" fill="#000"/>
<rect x="1113" y="286" width="3" height="107" fill="#fff"/>
<rect x="1122" y="273" width="1" height="33" fill="#000"/>
<rect x="1120" y="286" width="5" height="2" fill="#000"/>
<rect x="1130" y="288" width="1" height="24" fill="#000"/>
<rect x="1128" y="288" width="5" height="16" fill="#000"/>
<rect x="1138" y="294" width="1" height="17" fill="#000"/>
<rect x="1136" y="301" width="5" height="7" fill="#000"/>
<rect x="1146" y="277" width="1" height="34" fill="#000"/>
<rect x="1144" y="282" width="5" height="25" fill="#000"/>
<rect x="1145" y="283" width="3" height="23" fill="#fff"/>
<rect x="1154" y="273" width="1" height="70" fill="#000"/>
<rect x="1152" y="282" width="5" height="43" fill="#000"/>
<rect x="1162" y="316" width="1" height="55" fill="#000"/>
<rect x="1160" y="323" width="5" height="24" fill="#000"/>
<rect x="1170" y="296" width="1" height="61" fill="#000"/>
<rect x="1168" y="321" width="5" height="27" fill="#000"/>
<rect x="1169" y="322" width="3" height="25" fill="#fff"/>
<rect x="1178" y="287" width="1" height="21" fill="#000"/>
<rect x="1176" y="292" width="5" height="12" fill="#000"/>
<rect x="1177" y="293" width="3" height="10" fill="#fff"/>
<rect x="1186" y="292" width="1" height="18" fill="#000"/>
<rect x="1184" y="292" width="5" height="10" fill="#000"/>
<rect x="1194" y="293" width="1" height="35" fill="#000"/>
<rect x="1192" y="301" width="5" height="14" fill="#000"/>
<rect x="1202" y="292" width="1" height="65" fill="#000"/>
<rect x="1200" y="313" width="5" height="34" fill="#000"/>
<rect x="1210" y="340" width="1" height="27" fill="#000"/>
<rect x="1208" y="345" width="5" height="17" fill="#000"/>
<rect x="1218" y="348" width="1" height="28" fill="#000"/>
<rect x="1216" y="360" width="5" height="12" fill="#000"/>
<rect x="1226" y="360" width="1" height="13" fill="#000"/>
<rect x="1224" y="362" width="5" height="10" fill="#000"/>
<rect x="1225" y="363" width="3" height="8" fill="#fff"/>
<rect x="1234" y="361" width="1" height="24" fill="#000"/>
<rect x="1232" y="363" width="5" height="4" fill="#000"/>
<rect x="1242" y="364" width="1" height="30" fill="#000"/>
<rect x="1240" y="366" width="5" height="8" fill="#000"/>
<rect x="1250" y="296" width="1" height="121" fill="#000"/>
<rect x="1248" y="308" width="5" height="67" fill="#000"/>
<rect x="1249" y="309" width="3" height="65" fill="#fff"/>
<rect x="1258" y="304" width="1" height="43" fill="#000"/>
<rect x="1256" y="307" width="5" height="10" fill="#000"/>
<rect x="1266" y="313" width="1" height="67" fill="#000"/>
<rect x="1264" y="315" width="5" height="58" fill="#000"/>
<rect x="1274" y="363" width="1" height="16" fill="#000"/>
<rect x="1272" y="372" width="5" height="2" fill="#000"/>
<rect x="1282" y="365" width="1" height="14" fill="#000"/>
<rect x="1280" y="372" width="5" height="2" fill="#000"/>
<rect x="1290" y="353" width="1" height="39" fill="#000"/>
<rect x="1288" y="361" width="5" height="13" fill="#000"/>
<rect x="1289" y="362" width="3" height="11" fill="#fff"/>
<rect x="1298" y="334" width="1" height="80" fill="#000"/>
<rect x="1296" y="361" width="5" height="31" fill="#000"/>
<rect x="1306" y="373" width="1" height="116" fill="#000"/>
<rect x="1304" y="390" width="5" height="58" fill="#000"/>
<rect x="1314" y="442" width="1" height="73" fill="#000"/>
<rect x="1312" y="445" width="5" height="52" fill="#000"/>
<rect x="1322" y="479" width="1" height="17" fill="#000"/>
<rect x="1320" y="492" width="5" height="4" fill="#000"/>
<rect x="1321" y="493" width="3" height="2" fill="#fff"/>
<rect x="1268" y="465" width="97" height="13" fill="#00ff00"/>
<rect x="2" y="664" width="1" height="61" fill="#c0c0c0"/>
<rect x="10" y="664" width="1" height="67" fill="#c0c0c0"/>
<rect x="18" y="664" width="1" height="68" fill="#c0c0c0"/>
<rect x="26" y="664" width="1" height="70" fill="#c0c0c0"/>
<rect x="34" y="664" width="1" height="70" fill="#c0c0c0"/>
<rect x="42" y="664" width="1" height="71" fill="#c0c0c0"/>
<rect x="50" y="664" width="1" height="68" fill="#c0c0c0"/>
<rect x="58" y="664" width="1" height="62" fill="#c0c0c0"/>
<rect x="66" y="664" width="1" height="55" fill="#c0c0c0"/>
<rect x="74" y="664" width="1" height="49" fill="#c0c0c0"/>
<rect x="82" y="664" width="1" height="44" fill="#c0c0c0"/>
<rect x="90" y="664" width="1" height="39" fill="#c0c0c0"/>
<rect x="98" y="664" width="1" height="37" fill="#c0c0c0"/>
<rect x="106" y="664" width="1" height="33" fill="#c0c0c0"/>
<rect x="114" y="664" width="1" height="29" fill="#c0c0c0"/>
<rect x="122" y="664" width="1" height="23" fill="#c0c0c0"/>
<rect x="130" y="664" width="1" height="17" fill="#c0c0c0"/>
<rect x="138" y="664" width="1" height="14" fill="#c0c0c0"/>
<rect x="146" y="664" width="1" height="7" fill="#c0c0c0"/>
<rect x="154" y="664" width="1" height="1" fill="#c0c0c0"/>
<rect x="162" y="660" width="1" height="4" fill="#c0c0c0"/>
<rect x="170" y="654" width="1" height="10" fill="#c0c0c0"/>
<rect x="178" y="651" width="1" height="13" fill="#c0c0c0"/>
<rect x="186" y="646" width="1" height="18" fill="#c0c0c0"/>
<rect x="194" y="651" width="1" height="13" fill="#c0c0c0"/>
<rect x="202" y="656" width="1" height="8" fill="#c0c0c0"/>
<rect x="210" y="662" width="1" height="2" fill="#c0c0c0"/>
<rect x="218" y="664" width="1" height="5" fill="#c0c0c0"/>
<rect x="226" y="664" width="1" height="10" fill="#c0c0c0"/>
<rect x="234" y="664" width="1" height="19" fill="#c0c0c0"/>
<rect x="242" y="664" width="1" height="22" fill="#c0c0c0"/>
<rect x="250" y="664" width="1" height="25" fill="#c0c0c0"/>
<rect x="258" y="664" width="1" height="25" fill="#c0c0c0"/>
<rect x="266" y="664" width="1" height="25" fill="#c0c0c0"/>
<rect x="274" y="664" width="1" height="24" fill="#c0c0c0"/>
<rect x="282" y="664" width="1" height="22" fill="#c0c0c0"/>
<rect x="290" y="664" width="1" height="13" fill="#c0c0c0"/>
<rect x="298" y="664" width="1" height="6" fill="#c0c0c0"/>
<rect x="306" y="664" width="1" height="1" fill="#c0c0c0"/>
<rect x="314" y="662" width="1" height="2" fill="#c0c0c0"/>
<rect x="322" y="661" width="1" height="3" fill="#c0c0c0"/>
<rect x="330" y="658" width="1" height="6" fill="#c0c0c0"/>
<rect x="338" y="648" width="1" height="16" fill="#c0c0c0"/>
<rect x="346" y="633" width="1" height="31" fill="#c0c0c0"/>
<rect x="354" y="623" width="1" height="41" fill="#c0c0c0"/>
<rect x="362" y="613" width="1" height="51" fill="#c0c0c0"/>
<rect x="370" y="609" width="1" height="55" fill="#c0c0c0"/>
<rect x="378" y="604" width="1" height="60" fill="#c0c0c0"/>
<rect x="386" y="604" width="1" height="60" fill="#c0c0c0"/>
<rect x="394" y="605" width="1" height="59" fill="#c0c0c0"/>
<rect x="402" y="608" width="1" height="56" fill="#c0c0c0"/>
<rect x="410" y="611" width="1" height="53" fill="#c0c0c0"/>
<rect x="418" y="612" width="1" height="52" fill="#c0c0c0"/>
<rect x="426" y="613" width="1" height="51" fill="#c0c0c0"/>
<rect x="434" y="621" width="1" height="43" fill="#c0c0c0"/>
<rect x="442" y="631" width="1" height="33" fill="#c0c0c0"/>
<rect x="450" y="638" width="1" height="26" fill="#c0c0c0"/>
<rect x="458" y="646" width="1" height="18" fill="#c0c0c0"/>
<rect x="466" y="654" width="1" height="10" fill="#c0c0c0"/>
<rect x="474" y="656" width="1" height="8" fill="#c0c0c0"/>
<rect x="482" y="657" width="1" height="7" fill="#c0c0c0"/>
<rect x="490" y="663" width="1" height="1" fill="#c0c0c0"/>
<rect x="498" y="664" width="1" height="4" fill="#c0c0c0"/>
<rect x="506" y="664" width="1" height="6" fill="#c0c0c0"/>
<rect x="514" y="664" width="1" height="10" fill="#c0c0c0"/>
<rect x="522" y="664" width="1" height="17" fill="#c0c0c0"/>
<rect x="530" y="664" width="1" height="25" fill="#c0c0c0"/>
<rect x="538" y="664" width="1" height="35" fill="#c0c0c0"/>
<rect x="546" y="664" width="1" height="39" fill="#c0c0c0"/>
<rect x="554" y="664" width="1" height="39" fill="#c0c0c0"/>
<rect x="562" y="664" width="1" height="39" fill="#c0c0c0"/>
<rect x="570" y="664" width="1" height="40" fill="#c0c0c0"/>
<rect x="578" y="664" width="1" height="40" fill="#c0c0c0"/>
<rect x="586" y="664" width="1" height="41" fill="#c0c0c0"/>
<rect x="594" y="664" width="1" height="37" fill="#c0c0c0"/>
<rect x="602" y="664" width="1" height="36" fill="#c0c0c0"/>
<rect x="610" y="664" width="1" height="35" fill="#c0c0c0"/>
<rect x="618" y="664" width="1" height="36" fill="#c0c0c0"/>
<rect x="626" y="664" width="1" height="26" fill="#c0c0c0"/>
<rect x="634" y="664" width="1" height="12" fill="#c0c0c0"/>
<rect x="642" y="664" width="1" height="2" fill="#c0c0c0"/>
<rect x="650" y="660" width="1" height="4" fill="#c0c0c0"/>
<rect x="658" y="653" width="1" height="11" fill="#c0c0c0"/>
<rect x="666" y="641" width="1" height="23" fill="#c0c0c0"/>
<rect x="674" y="633" width="1" height="31" fill="#c0c0c0"/>
<rect x="682" y="618" width="1" height="46" fill="#c0c0c0"/>
<rect x="690" y="603" width="1" height="61" fill="#c0c0c0"/>
<rect x="698" y="595" width="1" height="69" fill="#c0c0c0"/>
<rect x="706" y="594" width="1" height="70" fill="#c0c0c0"/>
<rect x="714" y="596" width="1" height="68" fill="#c0c0c0"/>
<rect x="722" y="613" width="1" height="51" fill="#c0c0c0"/>
<rect x="730" y="635" width="1" height="29" fill="#c0c0c0"/>
<rect x="738" y="655" width="1" height="9" fill="#c0c0c0"/>
<rect x="746" y="664" width="1" height="6" fill="#c0c0c0"/>
<rect x="754" y="664" width="1" height="19" fill="#c0c0c0"/>
<rect x="762" y="664" width="1" height="37" fill="#c0c0c0"/>
<rect x="770" y="664" width="1" height="39" fill="#c0c0c0"/>
<rect x="778" y="664" width="1" height="39" fill="#c0c0c0"/>
<rect x="786" y="664" width="1" height="36" fill="#c0c0c0"/>
<rect x="794" y="664" width="1" height="34" fill="#c0c0c0"/>
<rect x="802" y="664" width="1" height="34" fill="#c0c0c0"/>
<rect x="810" y="664" width="1" height="31" fill="#c0c0c0"/>
<rect x="818" y="664" width="1" height="25" fill="#c0c0c0"/>
<rect x="826" y="664" width="1" height="32" fill="#c0c0c0"/>
<rect x="834" y="664" width="1" height="37" fill="#c0c0c0"/>
<rect x="842" y="664" width="1" height="39" fill="#c0c0c0"/>
<rect x="850" y="664" width="1" height="42" fill="#c0c0c0"/>
<rect x="858" y="664" width="1" height="44" fill="#c0c0c0"/>
<rect x="866" y="664" width="1" height="49" fill="#c0c0c0"/>
<rect x="874" y="664" width="1" height="58" fill="#c0c0c0"/>
<rect x="882" y="664" width="1" height="65" fill="#c0c0c0"/>
<rect x="890" y="664" width="1" height="69" fill="#c0c0c0"/>
<rect x="898" y="664" width="1" height="70" fill="#c0c0c0"/>
<rect x="906" y="664" width="1" height="70" fill="#c0c0c0"/>
<rect x="914" y="664" width="1" height="70" fill="#c0c0c0"/>
<rect x="922" y="664" width="1" height="68" fill="#c0c0c0"/>
<rect x="930" y="664" width="1" height="75" fill="#c0c0c0"/>
<rect x="938" y="664" width="1" height="78" fill="#c0c0c0"/>
<rect x="946" y="664" width="1" height="79" fill="#c0c0c0"/>
<rect x="954" y="664" width="1" height="83" fill="#c0c0c0"/>
<rect x="962" y="664" width="1" height="75" fill="#c0c0c0"/>
<rect x="970" y="664" width="1" height="70" fill="#c0c0c0"/>
<rect x="978" y="664" width="1" height="66" fill="#c0c0c0"/>
<rect x="986" y="664" width="1" height="62" fill="#c0c0c0"/>
<rect x="994" y="664" width="1" height="58" fill="#c0c0c0"/>
<rect x="1002" y="664" width="1" height="56" fill="#c0c0c0"/>
<rect x="1010" y="664" width="1" height="50" fill="#c0c0c0"/>
<rect x="1018" y="664" width="1" height="42" fill="#c0c0c0"/>
<rect x="1026" y="664" width="1" height="32" fill="#c0c0c0"/>
<rect x="1034" y="664" width="1" height="25" fill="#c0c0c0"/>
<rect x="1042" y="664" width="1" height="19" fill="#c0c0c0"/>
<rect x="1050" y="664" width="1" height="13" fill="#c0c0c0"/>
<rect x="1058" y="664" width="1" height="5" fill="#c0c0c0"/>
<rect x="1066" y="664" width="1" height="1" fill="#c0c0c0"/>
<rect x="1074" y="664" width="1" height="1" fill="#c0c0c0"/>
<rect x="1082" y="664" width="1" height="1" fill="#c0c0c0"/>
<rect x="1090" y="664" width="1" height="1" fill="#c0c0c0"/>
<rect x="1098" y="659" width="1" height="5" fill="#c0c0c0"/>
<rect x="1106" y="655" width="1" height="9" fill="#c0c0c0"/>
<rect x="1114" y="640" width="1" height="24" fill="#c0c0c0"/>
<rect x="1122" y="628" width="1" height="36" fill="#c0c0c0"/>
<rect x="1130" y="621" width="1" height="43" fill="#c0c0c0"/>
<rect x="1138" y="617" width="1" height="47" fill="#c0c0c0"/>
<rect x="1146" y="611" width="1" height="53" fill="#c0c0c0"/>
<rect x="1154" y="612" width="1" height="52" fill="#c0c0c0"/>
<rect x="1162" y="616" width="1" height="48" fill="#c0c0c0"/>
<rect x="1170" y="616" width="1" height="48" fill="#c0c0c0"/>
<rect x="1178" y="614" width="1" height="50" fill="#c0c0c0"/>
<rect x="1186" y="614" width="1" height="50" fill="#c0c0c0"/>
<rect x="1194" y="615" width="1" height="49" fill="#c0c0c0"/>
<rect x="1202" y="622" width="1" height="42" fill="#c0c0c0"/>
<rect x="1210" y="628" width="1" height="36" fill="#c0c0c0"/>
<rect x="1218" y="635" width="1" height="29" fill="#c0c0c0"/>
<rect x="1226" y="639" width="1" height="25" fill="#c0c0c0"/>
<rect x="1234" y="644" width="1" height="20" fill="#c0c0c0"/>
<rect x="1242" y="648" width="1" height="16" fill="#c0c0c0"/>
<rect x="1250" y="645" width="1" height="19" fill="#c0c0c0"/>
<rect x="1258" y="643" width="1" height="21" fill="#c0c0c0"/>
<rect x="1266" y="648" width="1" height="16" fill="#c0c0c0"/>
<rect x="1274" y="652" width="1" height="12" fill="#c0c0c0"/>
<rect x="1282" y="656" width="1" height="8" fill="#c0c0c0"/>
<rect x="1290" y="657" width="1" height="7" fill="#c0c0c0"/>
<rect x="1298" y="662" width="1" height="2" fill="#c0c0c0"/>
<rect x="1306" y="664" width="1" height="8" fill="#c0c0c0"/>
<rect x="1314" y="664" width="1" height="21" fill="#c0c0c0"/>
<rect x="1322" y="664" width="1" height="30" fill="#c0c0c0"/>
<polyline fill="none" stroke="#ff0000" stroke-width="1" stroke-dasharray="3 3" points="0.5,705.6 2.5,706.7 10.5,710.1 18.5,711.6 26.5,716.2 34.5,719.8 42.5,723.7 50.5,727.7 58.5,728.6 66.5,729.7 74.5,728.0 82.5,726.1 90.5,723.2 98.5,719.3 106.5,714.8 114.5,709.8 122.5,704.8 130.5,700.0 138.5,695.8 146.5,691.1 154.5,686.1 162.5,680.7 170.5,676.3 178.5,671.2 186.5,665.6 194.5,661.5 202.5,658.7 210.5,657.4 218.5,657.0 226.5,658.2 234.5,659.9 242.5,663.9 250.5,668.3 258.5,672.9 266.5,677.3 274.5,681.1 282.5,683.9 290.5,684.6 298.5,683.9 306.5,682.1 314.5,679.9 322.5,677.3 330.5,673.2 338.5,668.3 346.5,662.2 354.5,655.2 362.5,647.8 370.5,641.4 378.5,634.8 386.5,628.2 394.5,622.5 402.5,616.9 410.5,611.5 418.5,609.0 426.5,607.6 434.5,608.3 442.5,611.0 450.5,615.0 458.5,619.5 466.5,624.7 474.5,629.8 482.5,634.6 490.5,640.9 498.5,647.5 506.5,653.8 514.5,658.8 522.5,663.0 530.5,667.0 538.5,672.6 546.5,677.9 554.5,682.6 562.5,687.6 570.5,691.7 578.5,695.1 586.5,698.8 594.5,701.2 602.5,702.5 610.5,702.5 618.5,701.9 626.5,700.5 634.5,698.2 642.5,694.2 650.5,689.2 658.5,682.3 666.5,675.3 674.5,668.5 682.5,660.2 690.5,647.9 698.5,639.1 706.5,629.4 714.5,621.9 722.5,616.0 730.5,614.1 738.5,615.2 746.5,619.1 754.5,625.9 762.5,636.5 770.5,648.5 778.5,661.7 786.5,672.8 794.5,681.8 802.5,689.3 810.5,694.2 818.5,696.3 826.5,697.9 834.5,698.1 842.5,698.1 850.5,698.2 858.5,698.3 866.5,700.2 874.5,703.4 882.5,706.4 890.5,710.6 898.5,715.1 906.5,719.6 914.5,723.6 922.5,725.4 930.5,728.1 938.5,732.4 946.5,735.9 954.5,737.9 962.5,738.2 970.5,738.2 978.5,738.2 986.5,736.8 994.5,735.2 1002.5,734.1 1010.5,730.7 1018.5,727.0 1026.5,721.3 1034.5,714.7 1042.5,710.1 1050.5,704.1 1058.5,697.5 1066.5,691.1 1074.5,684.5 1082.5,678.7 1090.5,674.0 1098.5,669.8 1106.5,665.8 1114.5,661.3 1122.5,655.6 1130.5,651.2 1138.5,645.3 1146.5,638.7 1154.5,633.3 1162.5,629.4 1170.5,623.8 1178.5,619.9 1186.5,616.9 1194.5,615.1 1202.5,615.3 1210.5,616.3 1218.5,618.8 1226.5,621.5 1234.5,624.7 1242.5,628.3 1250.5,631.9 1258.5,635.7 1266.5,638.7 1274.5,641.5 1282.5,644.5 1290.5,647.8 1298.5,650.8 1306.5,654.1 1314.5,658.0 1322.5,662.2"/>
<line x1="0" x2="1613" y1="792.5" y2="792.5" stroke="#c0c0c0" stroke-width="1" stroke-dasharray="3 3"/>
<line x1="0" x2="1613" y1="843.5" y2="843.5" stroke="#c0c0c0" stroke-width="1" stroke-dasharray="3 3"/>
<line x1="0" x2="1613" y1="904.5" y2="904.5" stroke="#c0c0c0" stroke-width="1" stroke-dasharray="3 3"/>
<polyline fill="none" stroke="#1e90ff" stroke-width="1"  points="-5.5,877.5 2.5,883.8 10.5,876.3 18.5,866.9 26.5,870.5 34.5,868.6 42.5,872.2 50.5,861.8 58.5,857.0 66.5,848.6 74.5,851.0 82.5,849.8 90.5,851.7 98.5,854.1 106.5,849.8 114.5,847.6 122.5,840.1 130.5,836.5 138.5,842.8 146.5,830.7 154.5,829.5 162.5,827.6 170.5,823.5 178.5,825.9 186.5,821.6 194.5,849.3 202.5,853.4 210.5,859.4 218.5,863.8 226.5,863.8 234.5,874.1 242.5,860.6 250.5,862.1 258.5,858.0 266.5,858.0 274.5,850.5 282.5,854.8 290.5,827.6 298.5,828.8 306.5,833.6 314.5,835.6 322.5,841.3 330.5,831.2 338.5,816.8 346.5,804.7 354.5,808.8 362.5,806.6 370.5,813.6 378.5,809.5 386.5,822.1 394.5,825.2 402.5,825.9 410.5,825.9 418.5,824.0 426.5,822.3 434.5,842.8 442.5,852.4 450.5,848.1 458.5,855.3 466.5,856.5 474.5,844.5 482.5,842.5 490.5,855.3 498.5,858.9 506.5,852.9 514.5,854.8 522.5,866.6 530.5,869.8 538.5,878.7 546.5,866.2 554.5,857.7 562.5,858.9 570.5,863.0 578.5,859.7 586.5,864.5 594.5,852.9 602.5,854.1 610.5,855.8 618.5,862.5 626.5,836.5 634.5,822.8 642.5,829.5 650.5,829.5 658.5,826.9 666.5,818.0 674.5,818.0 682.5,805.9 690.5,802.8 698.5,811.9 706.5,821.6 714.5,827.6 722.5,853.4 730.5,863.3 738.5,866.6 746.5,866.9 754.5,865.7 762.5,876.5 770.5,854.6 778.5,851.7 786.5,848.8 794.5,850.5 802.5,852.9 810.5,848.1 818.5,840.9 826.5,859.7 834.5,858.5 842.5,856.5 850.5,858.5 858.5,859.7 866.5,863.3 874.5,871.5 882.5,872.9 890.5,869.8 898.5,866.9 906.5,867.8 914.5,868.6 922.5,864.5 930.5,877.7 938.5,876.5 946.5,872.9 954.5,877.5 962.5,856.5 970.5,856.5 978.5,858.9 986.5,858.9 994.5,857.7 1002.5,861.8 1010.5,850.0 1018.5,843.3 1026.5,836.5 1034.5,840.1 1042.5,838.9 1050.5,835.6 1058.5,828.8 1066.5,833.6 1074.5,841.6 1082.5,842.8 1090.5,843.3 1098.5,832.9 1106.5,829.5 1114.5,807.6 1122.5,809.1 1130.5,813.6 1138.5,815.6 1146.5,811.5 1154.5,826.4 1162.5,833.6 1170.5,827.6 1178.5,821.6 1186.5,824.5 1194.5,828.8 1202.5,837.8 1210.5,843.3 1218.5,846.9 1226.5,843.9 1234.5,844.7 1242.5,848.0 1250.5,828.9 1258.5,830.9 1266.5,848.9 1274.5,848.9 1282.5,848.9 1290.5,844.7 1298.5,853.9 1306.5,866.0 1314.5,875.7 1322.5,874.6"/>
<rect x="0" y="29" width="1614" height="1" fill="#000"/>
<rect x="1613" y="29" width="1" height="902" fill="#000"/>
<rect x="0" y="582" width="1614" height="1" fill="#000"/>
<rect x="0" y="584" width="1614" height="1" fill="#000"/>
<rect x="0" y="754" width="1614" height="1" fill="#000"/>
<rect x="0" y="756" width="1614" height="1" fill="#000"/>
<rect x="0" y="930" width="1614" height="1" fill="#000"/>
<rect x="1659" y="27" width="1" height="919" fill="#e3e3e3"/>
<rect x="1614" y="51" width="2" height="1" fill="#000"/>
<rect x="1614" y="84" width="2" height="1" fill="#000"/>
<rect x="1614" y="117" width="2" height="1" fill="#000"/>
<rect x="1614" y="150" width="2" height="1" fill="#000"/>
<rect x="1614" y="183" width="2" height="1" fill="#000"/>
<rect x="1614" y="216" width="2" height="1" fill="#000"/>
<rect x="1614" y="249" width="2" height="1" fill="#000"/>
<rect x="1614" y="282" width="2" height="1" fill="#000"/>
<rect x="1614" y="315" width="2" height="1" fill="#000"/>
<rect x="1614" y="348" width="2" height="1" fill="#000"/>
<rect x="1614" y="381" width="2" height="1" fill="#000"/>
<rect x="1614" y="414" width="2" height="1" fill="#000"/>
<rect x="1614" y="447" width="2" height="1" fill="#000"/>
<rect x="1614" y="480" width="2" height="1" fill="#000"/>
<rect x="1614" y="513" width="2" height="1" fill="#000"/>
<rect x="1614" y="546" width="2" height="1" fill="#000"/>
<rect x="1614" y="579" width="2" height="1" fill="#000"/>
<rect x="1614" y="664" width="2" height="1" fill="#000"/>
<rect x="58" y="931" width="1" height="3" fill="#000"/>
<rect x="122" y="931" width="1" height="3" fill="#000"/>
<rect x="186" y="931" width="1" height="3" fill="#000"/>
<rect x="250" y="931" width="1" height="3" fill="#000"/>
<rect x="314" y="931" width="1" height="3" fill="#000"/>
<rect x="378" y="931" width="1" height="3" fill="#000"/>
<rect x="442" y="931" width="1" height="3" fill="#000"/>
<rect x="506" y="931" width="1" height="3" fill="#000"/>
<rect x="570" y="931" width="1" height="3" fill="#000"/>
<rect x="634" y="931" width="1" height="3" fill="#000"/>
<rect x="698" y="931" width="1" height="3" fill="#000"/>
<rect x="762" y="931" width="1" height="3" fill="#000"/>
<rect x="826" y="931" width="1" height="3" fill="#000"/>
<rect x="890" y="931" width="1" height="3" fill="#000"/>
<rect x="954" y="931" width="1" height="3" fill="#000"/>
<rect x="1018" y="931" width="1" height="3" fill="#000"/>
<rect x="1082" y="931" width="1" height="3" fill="#000"/>
<rect x="1146" y="931" width="1" height="3" fill="#000"/>
<rect x="1210" y="931" width="1" height="3" fill="#000"/>
<rect x="1274" y="931" width="1" height="3" fill="#000"/>
<rect x="1608" y="418" width="5" height="5" fill="#ff4500"/>
<rect x="1609" y="419" width="3" height="3" fill="#fff"/>
<rect x="1608" y="443" width="5" height="5" fill="#ff0000"/>
<rect x="1609" y="444" width="3" height="3" fill="#fff"/>
<rect x="1608" y="466" width="5" height="5" fill="#32cd32"/>
<rect x="1609" y="467" width="3" height="3" fill="#fff"/>
<rect x="1608" y="528" width="5" height="5" fill="#0000ff"/>
<rect x="1609" y="529" width="3" height="3" fill="#fff"/>
<rect x="1608" y="564" width="5" height="5" fill="#0000ff"/>
<rect x="1609" y="565" width="3" height="3" fill="#fff"/>
</g>
<text transform="translate(1619.5,54.5) scale(0.9375,1)" font-size="9.6px" fill="#000">1.32065</text>
<text transform="translate(1619.5,87.5) scale(0.9375,1)" font-size="9.6px" fill="#000">1.31850</text>
<text transform="translate(1619.5,120.5) scale(0.9375,1)" font-size="9.6px" fill="#000">1.31635</text>
<text transform="translate(1619.5,153.5) scale(0.9375,1)" font-size="9.6px" fill="#000">1.31425</text>
<text transform="translate(1619.5,186.5) scale(0.9375,1)" font-size="9.6px" fill="#000">1.31210</text>
<text transform="translate(1619.5,219.5) scale(0.9375,1)" font-size="9.6px" fill="#000">1.30995</text>
<text transform="translate(1619.5,252.5) scale(0.9375,1)" font-size="9.6px" fill="#000">1.30780</text>
<text transform="translate(1619.5,285.5) scale(0.9375,1)" font-size="9.6px" fill="#000">1.30565</text>
<text transform="translate(1619.5,318.5) scale(0.9375,1)" font-size="9.6px" fill="#000">1.30350</text>
<text transform="translate(1619.5,351.5) scale(0.9375,1)" font-size="9.6px" fill="#000">1.30135</text>
<text transform="translate(1619.5,384.5) scale(0.9375,1)" font-size="9.6px" fill="#000">1.29920</text>
<text transform="translate(1619.5,417.5) scale(0.9375,1)" font-size="9.6px" fill="#000">1.29710</text>
<text transform="translate(1619.5,450.5) scale(0.9375,1)" font-size="9.6px" fill="#000">1.29495</text>
<text transform="translate(1619.5,483.5) scale(0.9375,1)" font-size="9.6px" fill="#000">1.29280</text>
<text transform="translate(1619.5,516.5) scale(0.9375,1)" font-size="9.6px" fill="#000">1.29065</text>
<text transform="translate(1619.5,549.5) scale(0.9375,1)" font-size="9.6px" fill="#000">1.28850</text>
<text transform="translate(1619.5,582.5) scale(0.9375,1)" font-size="9.6px" fill="#000">1.28635</text>
<g shape-rendering="crispEdges">
<rect x="1615" y="414" width="41" height="11" fill="#ff4500"/>
<rect x="1615" y="439" width="41" height="11" fill="#ff0000"/>
<rect x="1615" y="462" width="41" height="11" fill="#32cd32"/>
<rect x="1615" y="487" width="41" height="11" fill="#000000"/>
<rect x="1615" y="524" width="41" height="11" fill="#0000ff"/>
<rect x="1615" y="560" width="41" height="11" fill="#0000ff"/>
</g>
<text transform="translate(1619.5,422.8) scale(0.9375,1)" font-size="9.6px" fill="#fff">1.29671</text>
<text transform="translate(1619.5,447.8) scale(0.9375,1)" font-size="9.6px" fill="#fff">1.29509</text>
<text transform="translate(1619.5,470.8) scale(0.9375,1)" font-size="9.6px" fill="#fff">1.29359</text>
<text transform="translate(1619.5,495.8) scale(0.9375,1)" font-size="9.6px" fill="#fff">1.29202</text>
<text transform="translate(1619.5,532.8) scale(0.9375,1)" font-size="9.6px" fill="#fff">1.28957</text>
<text transform="translate(1619.5,568.8) scale(0.9375,1)" font-size="9.6px" fill="#fff">1.28724</text>
<text transform="translate(1617.0,594.8) scale(0.9375,1)" font-size="9.6px" fill="#000">0.003667</text>
<text transform="translate(1617.0,667.7) scale(0.9375,1)" font-size="9.6px" fill="#000">0.00</text>
<text transform="translate(1617.0,750.8) scale(0.9375,1)" font-size="9.6px" fill="#000">-0.00422</text>
<text transform="translate(1617.0,766.6) scale(0.9375,1)" font-size="9.6px" fill="#000">100</text>
<text transform="translate(1617.0,795.7) scale(0.9375,1)" font-size="9.6px" fill="#000">80</text>
<text transform="translate(1617.0,846.6) scale(0.9375,1)" font-size="9.6px" fill="#000">50</text>
<text transform="translate(1617.0,907.7) scale(0.9375,1)" font-size="9.6px" fill="#000">15</text>
<text transform="translate(1617.0,926.9) scale(0.9375,1)" font-size="9.6px" fill="#000">0</text>
<text transform="translate(-6.5,942.6) scale(0.975,1)" font-size="9.6px" fill="#000">13 Jan 2020</text>
<text transform="translate(57.5,942.6) scale(0.975,1)" font-size="9.6px" fill="#000">14 Jan 12:00</text>
<text transform="translate(121.5,942.6) scale(0.975,1)" font-size="9.6px" fill="#000">15 Jan 20:00</text>
<text transform="translate(185.5,942.6) scale(0.975,1)" font-size="9.6px" fill="#000">17 Jan 04:00</text>
<text transform="translate(249.5,942.6) scale(0.975,1)" font-size="9.6px" fill="#000">20 Jan 12:00</text>
<text transform="translate(313.5,942.6) scale(0.975,1)" font-size="9.6px" fill="#000">21 Jan 20:00</text>
<text transform="translate(377.5,942.6) scale(0.975,1)" font-size="9.6px" fill="#000">23 Jan 04:00</text>
<text transform="translate(441.5,942.6) scale(0.975,1)" font-size="9.6px" fill="#000">24 Jan 12:00</text>
<text transform="translate(505.5,942.6) scale(0.975,1)" font-size="9.6px" fill="#000">27 Jan 20:00</text>
<text transform="translate(569.5,942.6) scale(0.975,1)" font-size="9.6px" fill="#000">29 Jan 04:00</text>
<text transform="translate(633.5,942.6) scale(0.975,1)" font-size="9.6px" fill="#000">30 Jan 12:00</text>
<text transform="translate(697.5,942.6) scale(0.975,1)" font-size="9.6px" fill="#000">2 Feb 23:00</text>
<text transform="translate(761.5,942.6) scale(0.975,1)" font-size="9.6px" fill="#000">4 Feb 04:00</text>
<text transform="translate(825.5,942.6) scale(0.975,1)" font-size="9.6px" fill="#000">5 Feb 12:00</text>
<text transform="translate(889.5,942.6) scale(0.975,1)" font-size="9.6px" fill="#000">6 Feb 20:00</text>
<text transform="translate(953.5,942.6) scale(0.975,1)" font-size="9.6px" fill="#000">10 Feb 04:00</text>
<text transform="translate(1017.5,942.6) scale(0.975,1)" font-size="9.6px" fill="#000">11 Feb 12:00</text>
<text transform="translate(1081.5,942.6) scale(0.975,1)" font-size="9.6px" fill="#000">12 Feb 20:00</text>
<text transform="translate(1145.5,942.6) scale(0.975,1)" font-size="9.6px" fill="#000">14 Feb 04:00</text>
<text transform="translate(1209.5,942.6) scale(0.975,1)" font-size="9.6px" fill="#000">17 Feb 12:00</text>
<text transform="translate(1273.5,942.6) scale(0.975,1)" font-size="9.6px" fill="#000">18 Feb 20:00</text>
<g font-size="9.6px" fill="#000">
<text x="9" y="41.2" textLength="204" lengthAdjust="spacingAndGlyphs">GBPUSD-,H4&#160;&#160;1.29181 1.29284 1.29180 1.29202</text>
<text x="0" y="596.8" textLength="149" lengthAdjust="spacingAndGlyphs">MACD(12,26,9) -0.001387 0.000068</text>
<text x="-3" y="768.8" textLength="68.5" lengthAdjust="spacingAndGlyphs">RSI(14) 32.2112</text>
</g>
<path d="M0 36 L4.5 40.5 L0 40.5 Z" fill="#000"/>
<path d="M1332 30 L1341 30 L1336.5 34.8 Z" fill="#c0c0c0"/>
<g shape-rendering="crispEdges"><rect x="1475" y="468" width="8" height="1" fill="#f00"/><rect x="1482" y="466" width="3" height="5" fill="#f00"/><rect x="1483" y="467" width="1" height="3" fill="#fff"/><rect x="1485" y="456" width="74" height="25" fill="#f00"/><rect x="1486" y="457" width="72" height="23" fill="#fff"/></g>
<text x="1488" y="476.8" font-size="22px" fill="#ff0000" textLength="68.5" lengthAdjust="spacingAndGlyphs">1.29359</text>
<text x="1400" y="527" font-size="32px" font-weight="500" fill="#000" textLength="163" lengthAdjust="spacing" style="font-family:'Noto Sans CJK SC','WenQuanYi Zen Hei',sans-serif">多空转折点</text>
<text x="1399" y="526" font-size="32px" font-weight="500" fill="#00ff00" textLength="163" lengthAdjust="spacing" style="font-family:'Noto Sans CJK SC','WenQuanYi Zen Hei',sans-serif">多空转折点</text>
</svg>
<div id="panel">
<div class="b sell" style="left:0;width:49px;letter-spacing:-1px;text-indent:-4px">SELL</div>
<div class="b vol"><div class="vbtn" style="left:0;border-right-width:1px"><svg width="20" height="20" style="position:absolute;left:0;top:0"><path d="M7 8.3 L12.4 8.3 L9.7 11.6 Z" fill="#4866b8"/></svg></div><span class="vtxt">1.00</span><div class="vbtn" style="right:0;border-left-width:1px"><svg width="21" height="20" style="position:absolute;left:0;top:0"><path d="M8 11.6 L13.4 11.6 L10.7 8.3 Z" fill="#4866b8"/></svg></div></div>
<div class="b buy" style="left:164px;width:52px">BUY</div><div class="b" style="left:1px;top:23px;width:44px;height:1px;background:#7c7cf4"></div><div class="b" style="left:168px;top:23px;width:44px;height:1px;background:#7c7cf4"></div>
<div class="b pr" style="left:0;width:106px"><span class="sm" style="left:18px;top:22px">1.29</span><span class="big" style="left:44.5px;top:1.5px">20</span><span class="sm" style="left:85px;top:6px;font-size:12px">2</span></div>
<div class="b pr" style="left:108px;width:108px"><span class="sm" style="left:20px;top:22px">1.29</span><span class="big" style="left:47.8px;top:1.5px">22</span><span class="sm" style="left:88px;top:6px;font-size:12px">5</span></div>
</div>

<div id="tb">
<div class="act" style="left:248px;width:26px"></div>
<div class="act" style="left:400px;width:26px"></div>
<div class="act" style="left:428px;width:26px"></div>
<div class="act" style="left:588px;width:26px"></div>
<div class="act" style="left:1034px;width:26px"></div>
<div class="sep" style="left:210px;top:0;height:25px"></div><div class="sepw" style="left:211px;top:0;height:25px"></div>
<div class="sep" style="left:305px"></div><div class="sepw" style="left:306px"></div>
<div class="sep" style="left:395px"></div><div class="sepw" style="left:396px"></div>
<div class="sep" style="left:457px"></div><div class="sepw" style="left:458px"></div>
<div class="sep" style="left:578px;top:0;height:25px"></div><div class="sepw" style="left:579px;top:0;height:25px"></div>
<div class="sep" style="left:645px"></div><div class="sepw" style="left:646px"></div>
<div class="sep" style="left:884px;top:0;height:25px"></div><div class="sepw" style="left:885px;top:0;height:25px"></div>
<div class="sep" style="left:1145px;top:0;height:25px"></div><div class="sepw" style="left:1146px;top:0;height:25px"></div>
<div class="grip" style="left:214px"></div>
<div class="grip" style="left:582px"></div>
<div class="grip" style="left:888px"></div>
<span class="lbl" style="left:3px">新订单</span>
<span class="lbl" style="left:156px;font-size:11.6px">自动交易</span>
<span class="tf" style="left:885.9px;width:40px">M1</span>
<span class="tf" style="left:913.8px;width:40px">M5</span>
<span class="tf" style="left:942.4px;width:40px">M15</span>
<span class="tf" style="left:970.3px;width:40px">M30</span>
<span class="tf" style="left:998.5px;width:40px">H1</span>
<span class="tf" style="left:1025.7px;width:40px">H4</span>
<span class="tf" style="left:1054.3px;width:40px">D1</span>
<span class="tf" style="left:1083.2px;width:40px">W1</span>
<span class="tf" style="left:1109.9px;width:40px">MN</span>
<div class="edge1"></div><div class="edge2"></div><div class="edge3"></div>
<svg id="icons" width="1660" height="26" viewBox="0 0 1660 26">
<defs>
<linearGradient id="gold" x1="0" y1="0" x2="1" y2="1"><stop offset="0" stop-color="#fff49a"/><stop offset=".45" stop-color="#f4cc30"/><stop offset="1" stop-color="#b07c14"/></linearGradient>
<linearGradient id="blu" x1="0" y1="0" x2="0" y2="1"><stop offset="0" stop-color="#6cb6ff"/><stop offset="1" stop-color="#1c5cc8"/></linearGradient>
<linearGradient id="grn" x1="0" y1="0" x2="0" y2="1"><stop offset="0" stop-color="#6ccf3c"/><stop offset="1" stop-color="#2f8f12"/></linearGradient>
<linearGradient id="cloud" x1="0" y1="0" x2="0" y2="1"><stop offset="0" stop-color="#ffffff"/><stop offset="1" stop-color="#c4d4ee"/></linearGradient>
<linearGradient id="yel" x1="0" y1="0" x2="1" y2="1"><stop offset="0" stop-color="#ffec70"/><stop offset="1" stop-color="#e4b018"/></linearGradient>
<linearGradient id="blu2" x1="0" y1="0" x2="0" y2="1"><stop offset="0" stop-color="#2c88f0"/><stop offset="1" stop-color="#0848a8"/></linearGradient>
<linearGradient id="cnd" x1="0" y1="0" x2="1" y2="0"><stop offset="0" stop-color="#18c830"/><stop offset=".5" stop-color="#58f070"/><stop offset="1" stop-color="#18c830"/></linearGradient>
<radialGradient id="lens" cx=".45" cy=".4" r=".7"><stop offset="0" stop-color="#eefaff"/><stop offset="1" stop-color="#b4dcf8"/></radialGradient>
<radialGradient id="clk" cx=".5" cy=".4" r=".6"><stop offset="0" stop-color="#ffffff"/><stop offset="1" stop-color="#d8e8f8"/></radialGradient>
</defs>
<g><path d="M51.2 14.6 L59.4 19.4 L66.2 12.4 L66.9 13.9 L59.7 21.1 L50.9 16.1 Z" fill="#8c5c12"/><path d="M51.6 15.7 L59.6 20.2 L66.4 13.3" fill="none" stroke="#f2e2a8" stroke-width=".6"/><path d="M55.6 6.5 L66.2 12.4 L59.4 19.4 L51.2 14.6 Q54.2 11.2 55.6 6.5 Z" fill="url(#gold)" stroke="#a87414" stroke-width=".7"/></g>
<g><path d="M81.1 6.6 L84.6 5.4 L92.5 5.8 L92.5 13.6 L84.6 14.4 L81.1 12.6 Z" fill="#1c9cff"/><path d="M81.1 6.6 L84.6 7.6 L84.6 14.4 L81.1 12.6 Z" fill="#0a74dc"/><path d="M81.1 6.6 L84.6 5.4 L92.5 5.8 L84.6 7.6 Z" fill="#7cccff"/><rect x="85.8" y="8.8" width="5.6" height="1.5" fill="#eaf6ff"/><rect x="85.8" y="11.2" width="5.6" height="1.2" fill="#c4e2fc"/><path d="M81.6 20.4 a2.5 2.5 0 0 1 -.2 -5 a3 3 0 0 1 4.2 -1.3 a3.2 3.2 0 0 1 5.6 .6 a2.7 2.7 0 0 1 1.4 5.7 Z" fill="url(#cloud)" stroke="#4a70b8" stroke-width=".9"/></g>
<g fill="none"><path d="M115 13 L117.6 6 A7.5 7.5 0 0 1 115 20.5 Z" fill="#58b058" opacity=".42"/><circle cx="115" cy="13" r="7.4" stroke="#a8bce6" stroke-width="1"/><circle cx="115" cy="13" r="4.8" stroke="#7c9ce0" stroke-width="1.1"/><circle cx="115" cy="13" r="2.5" stroke="#4c78d8" stroke-width="1.1"/><path d="M115 20.4 A7.4 7.4 0 0 0 122.4 13" stroke="#38a038" stroke-width="1.2"/><circle cx="115" cy="12.8" r="1.5" fill="#2050c8"/><path d="M115.3 13.4 V20.6" stroke="#18a018" stroke-width="1.4"/></g>
<g><path d="M134.8 12.3 L149.6 12.3 L149.6 13.2 L142.8 20.7 L141.6 20.7 L134.8 13.4 Z" fill="url(#yel)" stroke="#c09a20" stroke-width=".6"/><ellipse cx="142.1" cy="10" rx="8" ry="2.3" fill="#3c98dc" stroke="#2878c0" stroke-width=".5"/><path d="M137.8 9.7 Q137.9 5.2 142.1 5.2 Q146.3 5.2 146.4 9.7 Q142.1 11 137.8 9.7 Z" fill="#62b4ec" stroke="#2c80c8" stroke-width=".5"/><circle cx="146.4" cy="16.7" r="4" fill="#e42010"/><circle cx="146.4" cy="16.7" r="4" fill="none" stroke="#f8d0c8" stroke-width=".4"/><rect x="144.9" y="15.2" width="3" height="3" fill="#fff"/></g>
<g stroke="#484848" stroke-width="1.1" fill="none"><path d="M228.5 7.5 V21"/><path d="M225.8 18.5 H239.5"/></g><path d="M228.5 6.4 l-2 2.6 h4 Z M240.4 18.5 l-2.6 -2 v4 Z" fill="#484848"/><path d="M234.4 8.1 V16.6 M234.4 9.5 H237 M232 15.5 H234.4" stroke="#0c8c14" stroke-width="1.3" fill="none"/>
<g stroke="#484848" stroke-width="1.1" fill="none"><path d="M256.5 7.5 V21"/><path d="M253.8 18.5 H267.5"/></g><path d="M256.5 6.4 l-2 2.6 h4 Z M268.4 18.5 l-2.6 -2 v4 Z" fill="#484848"/><path d="M262.6 5.2 V16.6" stroke="#0a800e" stroke-width="1.2"/><rect x="260.5" y="7.3" width="4.2" height="7.2" fill="url(#cnd)" stroke="#0a800e" stroke-width=".9"/>
<g stroke="#484848" stroke-width="1.1" fill="none"><path d="M284.5 7.5 V21"/><path d="M281.8 18.5 H295.5"/></g><path d="M284.5 6.4 l-2 2.6 h4 Z M296.4 18.5 l-2.6 -2 v4 Z" fill="#484848"/><path d="M283.2 15.8 Q286.4 10.5 289.3 10.3 Q291.4 10.4 293 12.6 L294.9 14.3" stroke="#1c8c1c" stroke-width="1.2" fill="none"/>
<g><path d="M324.4 15.4 L328.6 19.8" stroke="#b88c20" stroke-width="3.6" stroke-linecap="round"/><path d="M324.5 15.4 L328.5 19.6" stroke="#fae468" stroke-width="1.5" stroke-linecap="round"/><circle cx="320.2" cy="10.9" r="5.4" fill="url(#lens)" stroke="#3c8cd8" stroke-width="1.1"/><path d="M317.3 10.9 h5.8" stroke="#4a88c4" stroke-width="1.9"/><path d="M320.2 8 v5.8" stroke="#4a88c4" stroke-width="1.9"/></g>
<g><path d="M352.4 15.4 L356.6 19.8" stroke="#b88c20" stroke-width="3.6" stroke-linecap="round"/><path d="M352.5 15.4 L356.5 19.6" stroke="#fae468" stroke-width="1.5" stroke-linecap="round"/><circle cx="348.2" cy="10.9" r="5.4" fill="url(#lens)" stroke="#3c8cd8" stroke-width="1.1"/><path d="M345.3 10.9 h5.8" stroke="#4a88c4" stroke-width="1.9"/></g>
<rect x="370.2" y="5" width="7.7" height="7.7" rx=".8" fill="#3ca414"/><rect x="370.2" y="5" width="7.7" height="2.2" rx=".6" fill="#2c8c0c"/><rect x="371.2" y="5.9" width="1" height="1" fill="#fff" opacity=".8"/><path d="M371.35 8 h5.4 v3.8 h-1 v-.8 h-3.4 v.8 h-1 Z" fill="#fff"/><rect x="372.45" y="9.2" width="3.2" height=".9" fill="#9cd880"/>
<rect x="378.3" y="5" width="7.7" height="7.7" rx=".8" fill="#2458dc"/><rect x="378.3" y="5" width="7.7" height="2.2" rx=".6" fill="#1038b4"/><rect x="379.3" y="5.9" width="1" height="1" fill="#fff" opacity=".8"/><path d="M379.45 8 h5.4 v3.8 h-1 v-.8 h-3.4 v.8 h-1 Z" fill="#fff"/><rect x="380.55" y="9.2" width="3.2" height=".9" fill="#98b4f4"/>
<rect x="370.2" y="13.1" width="7.7" height="7.7" rx=".8" fill="#2458dc"/><rect x="370.2" y="13.1" width="7.7" height="2.2" rx=".6" fill="#1038b4"/><rect x="371.2" y="14" width="1" height="1" fill="#fff" opacity=".8"/><path d="M371.35 16.1 h5.4 v3.8 h-1 v-.8 h-3.4 v.8 h-1 Z" fill="#fff"/><rect x="372.45" y="17.3" width="3.2" height=".9" fill="#98b4f4"/>
<rect x="378.3" y="13.1" width="7.7" height="7.7" rx=".8" fill="#3ca414"/><rect x="378.3" y="13.1" width="7.7" height="2.2" rx=".6" fill="#2c8c0c"/><rect x="379.3" y="14" width="1" height="1" fill="#fff" opacity=".8"/><path d="M379.45 16.1 h5.4 v3.8 h-1 v-.8 h-3.4 v.8 h-1 Z" fill="#fff"/><rect x="380.55" y="17.3" width="3.2" height=".9" fill="#9cd880"/>
<g stroke="#484848" stroke-width="1.1" fill="none"><path d="M408.5 7.5 V21"/><path d="M405.8 18.5 H419.5"/></g><path d="M408.5 6.4 l-2 2.6 h4 Z M420.4 18.5 l-2.6 -2 v4 Z" fill="#484848"/><path d="M413.1 9.1 L413.1 15.8 L417.1 12.4 Z" fill="#62ec7c" stroke="#0c8c10" stroke-width="1"/>
<g stroke="#484848" stroke-width="1.1" fill="none"><path d="M436.5 7.5 V21"/><path d="M433.8 18.5 H447.5"/></g><path d="M436.5 6.4 l-2 2.6 h4 Z M448.4 18.5 l-2.6 -2 v4 Z" fill="#484848"/><path d="M442.5 7.2 V16.9" stroke="#1870a4" stroke-width="1.3"/><path d="M443.4 12.4 H447.9 M443.4 12.4 l2.2 -2.2 M443.4 12.4 l2.2 2.2" stroke="#b42c00" stroke-width="1.2" fill="none"/><path d="M444.2 12.4 H446.4" stroke="#ff7010" stroke-width=".9"/>
<path d="M467.6 5.6 h7.4 l3 3 v9.6 h-10.4 Z" fill="#fafafa" stroke="#8c8c8c" stroke-width=".8"/><path d="M475 5.6 v3 h3" fill="#e4e4e4" stroke="#8c8c8c" stroke-width=".6"/><path d="M471.6 8.6 q-1.4 0 -1.4 1.4 v1.4 q0 .9 -.9 .9 q.9 0 .9 .9 v1.4 q0 1.4 1.4 1.4" fill="none" stroke="#707070" stroke-width=".8"/><path d="M475.6 11.3 h3.6 v3.7 h3.7 v3.6 h-3.7 v3.7 h-3.6 v-3.7 h-3.7 v-3.6 h3.7 Z" fill="#24d624" stroke="#0c7c0c" stroke-width=".8"/><path d="M476.4 12.2 h2 v3.6 h3.6 v.9" fill="none" stroke="#9cf49c" stroke-width=".7"/><path d="M489 12 h5.4 l-2.7 3 Z" fill="#000"/>
<circle cx="513" cy="13" r="7.7" fill="url(#blu2)"/><circle cx="513" cy="13" r="5.5" fill="url(#clk)"/><g stroke="#8090a8" stroke-width=".7"><path d="M513 7.8 v1 M513 17.2 v1 M507.8 13 h1 M517.2 13 h1 M509.4 9.4 l.6 .6 M516 16 l.6 .6 M516.6 9.4 l-.6 .6 M510 16 l-.6 .6"/></g><path d="M512.8 9.4 V13.2 H515.6" stroke="#202020" stroke-width="1.1" fill="none"/><path d="M527.8 12 h5.4 l-2.7 3 Z" fill="#000"/>
<rect x="544.4" y="6.4" width="15.4" height="13.2" fill="#fff" stroke="#3a78c8" stroke-width=".9"/><rect x="544.4" y="6.4" width="15.4" height="1.8" fill="#5c98e0"/><path d="M544.8 14 h14.6" stroke="#3a78c8" stroke-width=".9"/><path d="M546.2 12.4 h1.6 l1.4 -1 h1.4 l1.2 -1 l1.6 .9 h1.6 l1.6 -1 h.6" stroke="#a83410" stroke-width="1.2" fill="none"/><path d="M546.6 17.6 l2 -.9 l1.6 .8 l2 -1.2 l1.6 -1.2 l1.6 1.4 l1.4 1" stroke="#1c9420" stroke-width="1.1" fill="none"/><path d="M567 12 h5.4 l-2.7 3 Z" fill="#000"/>
<path d="M596 6 L596 17.4 L598.8 14.9 L601 19.8 L602.8 19 L600.6 14.2 L604.4 14 Z" fill="#404040"/>
<path d="M628.5 6 V12.3 M628.5 14.7 V21 M621 13.5 H627.3 M629.7 13.5 H636" stroke="#404040" stroke-width="1.1"/><rect x="628" y="13" width="1" height="1" fill="#404040"/>
<path d="M662.5 7 V20" stroke="#404040" stroke-width="1.2"/>
<path d="M685 13.5 H697" stroke="#404040" stroke-width="1.2"/>
<path d="M713 19.8 L725 7.6" stroke="#505050" stroke-width="1.2"/>
<g stroke="#484848" stroke-width="1.1" fill="none"><path d="M738.8 15.2 L751.6 6.2 M740.2 19.8 L753 10.8"/><path d="M741.6 12 l1.2 7 M744.6 9.8 l1.2 7 M747.6 7.6 l1.2 7 M750.6 5.2 l1.2 7"/><path d="M739.6 17.4 L752.4 8.4" stroke-width=".7"/></g><text x="749.6" y="22" font-size="7px" font-weight="bold" fill="#404040" font-family="Liberation Sans,sans-serif">E</text>
<g stroke="#505050" stroke-width="1" stroke-dasharray="1 1"><path d="M768 6.5 h13 M768 10 h13 M768 13.5 h13 M768 17.5 h10"/></g><text x="777.8" y="22" font-size="7px" font-weight="bold" fill="#404040" font-family="Liberation Sans,sans-serif">F</text>
<text x="797.6" y="17.8" font-size="12.5px" font-weight="bold" fill="#505050" font-family="Liberation Sans,sans-serif">A</text>
<rect x="824.9" y="7" width="12" height="12.4" fill="none" stroke="#505050" stroke-width="1" stroke-dasharray="1 1"/><text x="827.3" y="17.6" font-size="11px" font-weight="bold" fill="#505050" font-family="Liberation Sans,sans-serif">T</text>
<path d="M851.9 9.9 L855.8 6.6 L859.7 9.9 L855.8 13 Z" fill="#404040"/><path d="M858.6 17.3 L862.5 14.4 L866.4 17.3 L862.5 20.3 Z" fill="#404040"/><path d="M854.2 14.3 L856.3 16.5 L860.7 11.6" stroke="#404040" stroke-width="1.2" fill="none"/><path d="M872.8 12 h5.4 l-2.7 3 Z" fill="#000"/>
<circle cx="1615.2" cy="10" r="3.8" fill="#f4f8ff" stroke="#2a60d0" stroke-width="1.3"/><path d="M1612.4 13 L1608.2 17.6" stroke="#2a60d0" stroke-width="2.2" stroke-linecap="round"/>
<g stroke="#9a9a9a" stroke-width=".9"><path d="M1642 10 a6.4 4.8 0 1 1 9.5 4.2 l.4 2.4 l-2.6 -1.8 a6.4 4.8 0 0 1 -7.3 -4.8 Z" fill="#ececf2"/><path d="M1634.4 14.4 a4.9 3.9 0 1 1 4 3.8 l-2 1.6 l.2 -2.2 a4.9 3.9 0 0 1 -2.2 -3.2 Z" fill="#f6f6fa"/></g>
</svg>
</div>
</body></html>
